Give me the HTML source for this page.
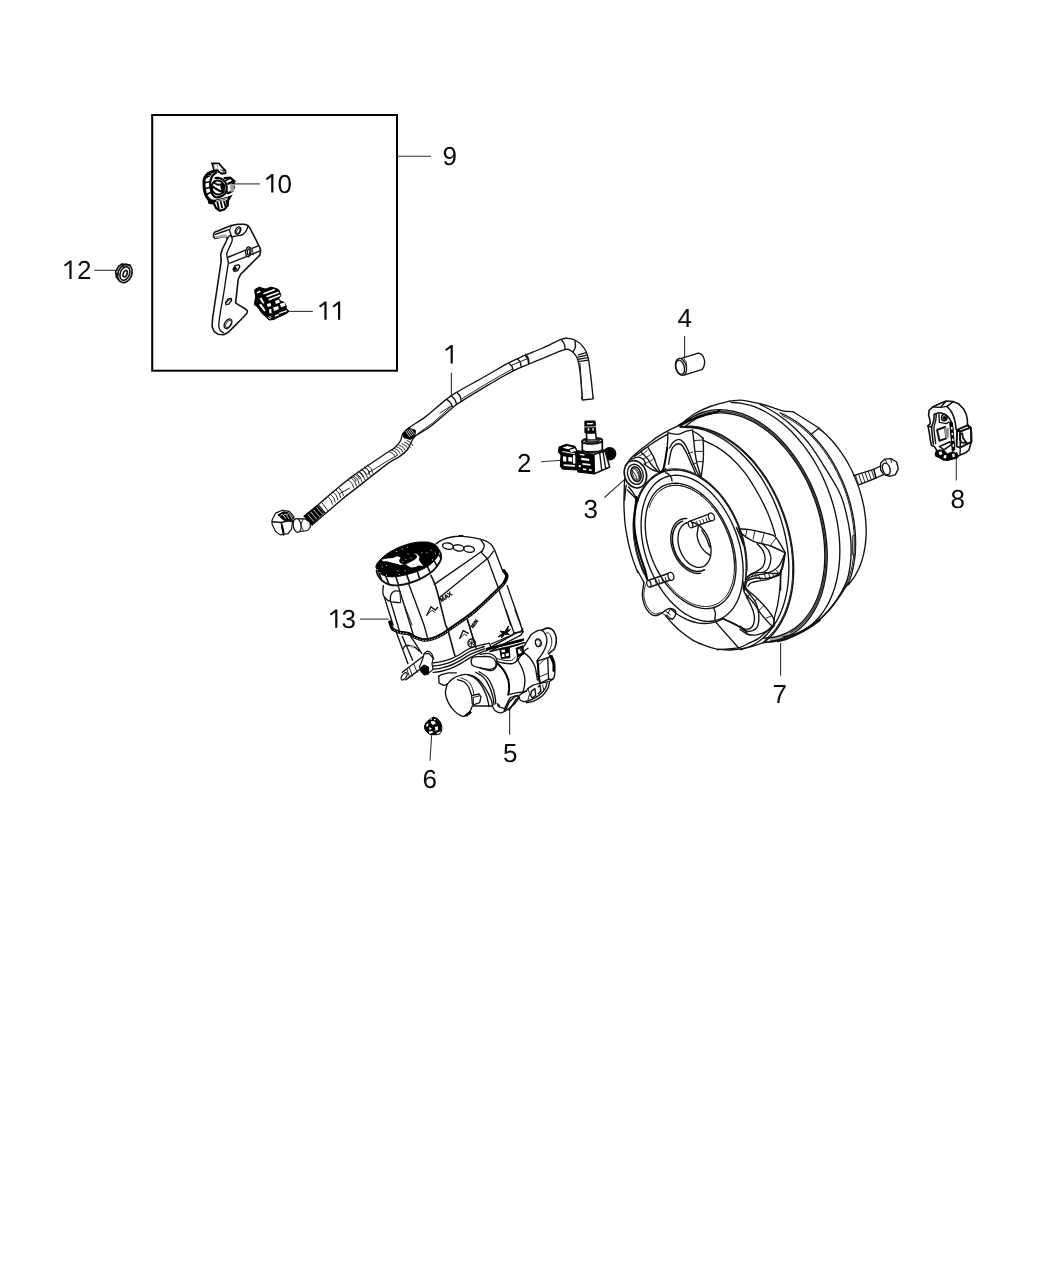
<!DOCTYPE html>
<html><head><meta charset="utf-8"><title>Brake Booster and Master Cylinder</title>
<style>
html,body{margin:0;padding:0;background:#fff;}
body{width:1050px;height:1275px;overflow:hidden;font-family:"Liberation Sans",sans-serif;}
svg{display:block;}
.l{fill:none;stroke:#111;stroke-width:1.35;stroke-linecap:round;stroke-linejoin:round;vector-effect:non-scaling-stroke}
.m{fill:none;stroke:#111;stroke-width:1.6;stroke-linecap:round;stroke-linejoin:round;vector-effect:non-scaling-stroke}
.h{fill:none;stroke:#000;stroke-width:2;stroke-linecap:round;stroke-linejoin:round;vector-effect:non-scaling-stroke}
.b{fill:none;stroke:#000;stroke-linecap:round;vector-effect:non-scaling-stroke}
.bw{fill:none;stroke:#bbb;stroke-width:1;stroke-dasharray:1.5 1.5;vector-effect:non-scaling-stroke}
.gr{fill:#222;stroke:#999;stroke-width:1.2}
.tw{fill:none;stroke:#fff;stroke-width:.8;vector-effect:non-scaling-stroke}
.g{fill:none;stroke:#a8a8a8;stroke-width:2.2;vector-effect:non-scaling-stroke}
.t{fill:none;stroke:#222;stroke-width:1;stroke-linecap:round;stroke-linejoin:round;vector-effect:non-scaling-stroke}
.w{fill:#fff;stroke:#111;stroke-width:1.2;stroke-linecap:round;stroke-linejoin:round;vector-effect:non-scaling-stroke}
.k{fill:#000;stroke:#000;stroke-width:1;stroke-linejoin:round;vector-effect:non-scaling-stroke}
.ld{fill:none;stroke:#333;stroke-width:1.1;vector-effect:non-scaling-stroke}
svg{will-change:transform;}
text{text-rendering:geometricPrecision;font-family:"Liberation Sans",sans-serif;font-size:26px;fill:#0a0a0a;}
</style></head><body>
<svg width="1050" height="1275" viewBox="0 0 1050 1275">
<rect x="0" y="0" width="1050" height="1275" fill="#fff"/>
<!-- frame box -->
<rect x="152.2" y="115" width="244.8" height="255.7" fill="none" stroke="#000" stroke-width="2"/>
<!-- leaders -->
<g class="ld">
<path d="M397 156.2H431"/>
<path d="M230.3 183.9H260"/>
<path d="M289.1 311.4H312.8"/>
<path d="M94.3 270.3H117.4"/>
<path d="M451.4 372.8V395.4"/>
<path d="M541.1 461.7L561.7 460.2"/>
<path d="M604.4 497.5L625 479.2"/>
<path d="M684.6 335.9V357.4"/>
<path d="M956.3 457.7V480.6"/>
<path d="M780.6 642.9V675.8"/>
<path d="M360 619.1H388.6"/>
<path d="M509.6 710V734.7"/>
<path d="M431.6 735.3L430 760.7"/>
</g>
<!-- labels -->
<g>
<text id="t9" x="442.6" y="164.8">9</text>
<path d="M7.7 0H5.5V-15.6L1.3-12.3 0-13.9 5.9-18.4H7.7Z" fill="#0a0a0a" transform="translate(265.7 192.5)"/><text id="t10" x="277.6" y="192.5">0</text>
<path d="M7.7 0H5.5V-15.6L1.3-12.3 0-13.9 5.9-18.4H7.7Z" fill="#0a0a0a" transform="translate(318.9 319.8)"/><path d="M7.7 0H5.5V-15.6L1.3-12.3 0-13.9 5.9-18.4H7.7Z" fill="#0a0a0a" transform="translate(332.5 319.8)"/>
<path d="M7.7 0H5.5V-15.6L1.3-12.3 0-13.9 5.9-18.4H7.7Z" fill="#0a0a0a" transform="translate(63.9 278.9)"/><text id="t12" x="76.9" y="278.9">2</text>
<path d="M7.7 0H5.5V-15.6L1.3-12.3 0-13.9 5.9-18.4H7.7Z" fill="#0a0a0a" transform="translate(445.1 363.4)"/>
<text id="t2" x="517" y="471.6">2</text>
<text id="t3" x="583.5" y="518.1">3</text>
<text id="t4" x="677.5" y="327.1">4</text>
<text id="t8" x="950.6" y="507.8">8</text>
<text id="t7" x="772.6" y="702.9">7</text>
<path d="M7.7 0H5.5V-15.6L1.3-12.3 0-13.9 5.9-18.4H7.7Z" fill="#0a0a0a" transform="translate(329.7 627.8)"/><text id="t13" x="341.5" y="627.8">3</text>
<text id="t5" x="503" y="762">5</text>
<text id="t6" x="422.6" y="788">6</text>
</g>

<g id="hose">
<path class="l" d="M304.1 516.0C306.6 514.0 313.9 508.3 319.0 504.0C324.1 499.7 329.5 494.9 335.0 490.3C340.5 485.7 343.9 482.6 352.1 476.6C360.4 470.6 377.5 459.1 384.6 454.3C391.7 449.4 392.2 449.7 394.9 447.4C397.5 445.1 399.2 442.9 400.6 440.6C401.9 438.3 401.5 435.8 402.9 433.7C404.2 431.6 404.8 430.9 408.6 428.0C412.4 425.1 419.4 421.3 425.7 416.6C432.0 411.8 441.0 403.5 446.3 399.4C451.5 395.3 450.6 395.9 457.1 392.0C463.7 388.1 477.1 380.9 485.7 376.0C494.3 371.1 502.1 366.3 508.6 362.9C515.0 359.4 518.9 357.9 524.6 355.4C530.3 353.0 536.8 350.7 542.9 348.0C549.0 345.3 557.0 341.0 561.1 339.4C565.3 337.8 565.7 338.2 568.0 338.3C570.3 338.4 572.6 338.9 574.9 340.0C577.1 341.1 579.8 343.1 581.7 345.1C583.6 347.1 585.1 349.5 586.3 352.0C587.4 354.5 587.8 355.8 588.6 360.0C589.3 364.2 590.1 370.9 590.9 377.1C591.6 383.4 592.8 394.3 593.1 397.7"/>
<path class="l" d="M312.1 525.1C314.4 523.1 320.9 517.4 325.9 513.1C330.8 508.9 336.5 503.8 341.9 499.4C347.2 495.0 350.2 492.9 357.9 486.9C365.5 480.9 381.1 468.5 388.0 463.4C394.9 458.4 396.2 458.9 399.4 456.6C402.7 454.3 405.5 452.0 407.4 449.7C409.3 447.4 409.5 445.1 410.9 442.9C412.2 440.6 412.0 438.9 415.4 436.0C418.9 433.1 425.0 430.7 431.4 425.7C437.9 420.8 449.2 410.4 454.3 406.3C459.3 402.2 456.1 404.7 461.7 401.1C467.3 397.6 479.4 390.2 488.0 385.1C496.6 380.1 506.3 374.4 513.1 370.9C520.0 367.3 524.2 366.1 529.1 364.0C534.1 361.9 537.0 360.7 542.9 358.3C548.8 355.9 560.0 351.0 564.6 349.7C569.1 348.4 568.6 349.5 570.3 350.3C572.0 351.0 573.5 352.5 574.9 354.3C576.2 356.1 577.3 357.3 578.3 361.1C579.2 365.0 579.9 370.9 580.6 377.1C581.2 383.4 582.0 395.2 582.3 398.9"/>
<path class="l" d="M581.7 397.9L582.4 400.0L593.1 398.9L593.1 397.5"/>
<path class="t" d="M339.6 493.7L349.9 488.0"/>
<path class="t" d="M368.1 474.3L368.6 472.6L388.0 460.6L397.1 455.4"/>
<path class="t" d="M417.7 433.7L433.7 422.3L452.0 405.7"/>
<path class="t" d="M440.0 413.1L451.4 405.7"/>
<path class="t" d="M461.7 398.9C466.1 396.2 479.6 387.8 488.0 382.9C496.4 377.9 508.0 371.4 512.0 369.1"/>
<path class="t" d="M580.0 363.4L582.3 397.7"/>
<path class="l" d="M446.9 399.4C447.5 400.0 449.7 401.5 450.6 402.9C451.6 404.2 452.2 406.7 452.6 407.4"/>
<path class="l" d="M451.4 396.0C452.0 396.6 454.1 398.3 454.9 399.7C455.8 401.1 456.3 403.8 456.6 404.6"/>
<path class="l" d="M457.1 392.6C457.6 393.2 459.4 394.9 460.1 396.3C460.7 397.7 461.0 400.3 461.1 401.1"/>
<path class="l" d="M509.1 363.4C509.6 364.0 511.4 365.3 512.1 366.6C512.7 367.8 513.0 370.1 513.1 370.9"/>
<path class="l" d="M517.7 358.9C518.2 359.4 519.8 361.0 520.3 362.3C520.9 363.6 521.0 366.1 521.1 366.9"/>
<path class="l" d="M525.1 355.4C525.6 356.0 527.2 357.7 527.8 359.1C528.3 360.6 528.4 363.2 528.6 364.0"/>
<path class="t" d="M510.9 365.7L526.9 358.9"/>
<path class="l" d="M525.7 354.3C526.2 355.0 527.8 356.8 528.3 358.3C528.9 359.8 529.0 362.6 529.1 363.4"/>
<path class="l" d="M561.7 340.0C562.2 340.7 563.8 342.5 564.3 344.0C564.9 345.5 565.0 348.3 565.1 349.1"/>
<path class="l" d="M574.9 340.6C575.0 341.6 575.7 345.0 575.4 346.9C575.1 348.8 573.5 351.1 573.1 352.0"/>
<path class="l" d="M578.3 354.9L586.3 352.6"/>
<path class="l" d="M578.3 357.1L587.0 355.1"/>
<path class="l" d="M578.3 359.4L587.7 357.6"/>
<path class="l" d="M578.3 361.7L588.3 360.1"/>
<path class="t" d="M348.1 479.8C348.8 480.4 350.9 481.9 351.8 483.3C352.7 484.7 353.3 487.2 353.6 488.0"/>
<path class="t" d="M350.9 477.7C351.5 478.2 353.6 479.8 354.5 481.2C355.5 482.6 356.1 485.1 356.4 485.9"/>
<path class="t" d="M353.6 475.5C354.2 476.1 356.4 477.7 357.3 479.1C358.2 480.5 358.8 483.0 359.1 483.8"/>
<path class="t" d="M356.4 473.4C357.0 474.0 359.1 475.6 360.0 477.0C360.9 478.3 361.6 480.9 361.9 481.7"/>
<path class="t" d="M359.1 471.3C359.7 471.9 361.9 473.5 362.8 474.9C363.7 476.2 364.3 478.8 364.6 479.5"/>
<path class="t" d="M361.9 469.2C362.5 469.8 364.6 471.4 365.5 472.7C366.4 474.1 367.0 476.6 367.3 477.4"/>
<path class="t" d="M364.6 467.1C365.2 467.7 367.3 469.3 368.3 470.6C369.2 472.0 369.8 474.5 370.1 475.3"/>
<path class="t" d="M367.3 465.0C368.0 465.6 370.1 467.1 371.0 468.5C371.9 469.9 372.5 472.4 372.8 473.2"/>
<path class="t" d="M327.2 496.2C327.8 496.8 329.9 498.3 330.7 499.7C331.6 501.0 332.1 503.5 332.4 504.2"/>
<path class="t" d="M330.0 494.1C330.6 494.6 332.6 496.2 333.5 497.5C334.3 498.8 334.8 501.3 335.1 502.1"/>
<path class="t" d="M332.7 491.9C333.3 492.5 335.3 494.0 336.2 495.3C337.1 496.6 337.6 499.1 337.9 499.9"/>
<path class="t" d="M335.5 489.7C336.0 490.3 338.1 491.8 338.9 493.1C339.8 494.5 340.3 497.0 340.6 497.7"/>
<path class="t" d="M338.2 487.5C338.8 488.1 340.8 489.6 341.7 491.0C342.5 492.3 343.1 494.8 343.3 495.5"/>
<path class="t" d="M389.4 451.8C390.0 452.1 392.2 452.9 393.1 453.7C394.1 454.6 394.8 456.3 395.1 456.8"/>
<path class="t" d="M391.9 450.2C392.5 450.5 394.7 451.3 395.7 452.1C396.6 453.0 397.3 454.7 397.6 455.2"/>
<path class="t" d="M394.4 448.6C395.0 448.9 397.2 449.7 398.2 450.5C399.1 451.4 399.8 453.1 400.1 453.6"/>
<path class="t" d="M396.9 447.0C397.5 447.3 399.7 448.1 400.7 448.9C401.6 449.8 402.3 451.5 402.6 452.0"/>
<path class="t" d="M399.4 445.4C400.1 445.7 402.2 446.5 403.2 447.3C404.2 448.2 404.8 449.9 405.1 450.4"/>
<path class="t" d="M401.9 443.8C402.6 444.1 404.8 444.9 405.7 445.7C406.7 446.6 407.3 448.3 407.7 448.8"/>
<path class="t" d="M404.5 442.2C405.1 442.5 407.3 443.3 408.2 444.1C409.2 445.0 409.8 446.7 410.2 447.2"/>
<path class="t" d="M407.0 440.6C407.6 440.9 409.8 441.7 410.7 442.5C411.7 443.4 412.4 445.1 412.7 445.6"/>
<path class="k" d="M402.6 433.7L408.6 428.0L415.4 430.3L414.9 436.6L410.3 439.4L404.0 437.7Z"/>
<path class="tw" d="M405.7 430.9L409.9 437.1"/>
<path class="tw" d="M407.3 430.2L411.5 436.2"/>
<path class="tw" d="M408.9 429.5L413.1 435.3"/>
<path class="tw" d="M410.5 428.8L414.7 434.4"/>
<path class="t" d="M351.4 476.6C352.0 476.9 353.9 477.5 354.6 478.3C355.4 479.0 355.8 480.7 356.0 481.1"/>
<path class="t" d="M354.6 474.3C355.2 474.6 357.1 475.2 357.8 476.0C358.6 476.8 359.0 478.4 359.2 478.9"/>
<path class="t" d="M357.8 472.0C358.4 472.3 360.3 473.0 361.0 473.7C361.8 474.5 362.2 476.1 362.4 476.6"/>
<path class="t" d="M361.0 469.7C361.6 470.0 363.5 470.7 364.2 471.4C365.0 472.2 365.4 473.8 365.6 474.3"/>
<path class="t" d="M364.2 467.4C364.8 467.7 366.7 468.4 367.4 469.1C368.2 469.9 368.6 471.5 368.8 472.0"/>
<path class="k" d="M304.1 516.3L317.3 505.7L323.6 513.1L311.6 524.8Z"/>
<path class="tw" d="M307.8 514.3L313.9 521.7"/>
<path class="tw" d="M310.7 512.0L316.7 519.2"/>
<path class="tw" d="M313.5 509.7L319.6 516.7"/>
<path class="tw" d="M316.4 507.4L322.4 514.2"/>
<path class="l" d="M319.0 505.7L325.3 513.1"/>
<path class="t" d="M322.4 503.4L328.1 510.9"/>
<path class="w" d="M295.0 518.9L305.3 518.9L309.9 522.3L310.4 526.9L307.6 530.5L297.3 532.0"/>
<ellipse class="w" cx="297.1" cy="525.4" rx="3.9" ry="6.9" transform="rotate(-8 297.1 525.4)"/>
<path class="t" d="M303.0 519.1C302.7 520.1 301.2 523.1 301.3 525.1C301.4 527.2 303.2 530.2 303.6 531.2"/>
<path class="w" d="M272.1 520.0L275.6 513.1L282.4 510.3L289.3 511.4L293.9 516.6L292.7 520.0L291.6 529.1L288.1 533.7L280.1 534.9L275.6 531.4L272.1 524.6Z"/>
<path class="k" d="M277.9 514.9L283.6 511.8L289.3 513.1L292.7 517.7L291.6 521.7L283.6 520.0Z"/>
<path class="tw" d="M279.6 516.3C280.0 516.0 281.4 513.9 282.4 514.3C283.5 514.7 285.3 518.1 285.9 518.9"/>
<path class="tw" d="M283.0 515.7C283.5 515.4 284.8 513.4 285.9 514.1C286.9 514.7 288.5 518.4 289.1 519.3"/>
<path class="tw" d="M286.4 515.0C286.9 514.8 288.3 513.0 289.3 513.8C290.3 514.6 291.8 518.8 292.3 519.8"/>
<path class="m" d="M272.1 521.7L281.3 522.5L283.6 534.9"/>
<path class="l" d="M281.3 522.5L291.6 520.0"/>
<path class="h" d="M281.9 525.7L283.6 532.6"/>
</g>

<g id="small">
<circle cx="609.7" cy="453.7" r="6.7" fill="#000"/>
<path class="w" d="M593.7 454.3L605.0 451.0L609.7 467.0L594.3 473.7Z" style="stroke-width:1.6"/>
<path class="l" d="M599.7 452.7L601.7 470.3"/>
<path class="l" d="M603.0 451.7L605.7 468.7"/>
<path class="k" d="M577.0 451.0L593.7 453.3L594.3 474.0L577.7 472.0Z"/>
<path d="M581.0 457.7L589.0 458.7L589.3 461.0L581.3 460.0Z" fill="#fff"/>
<path d="M582.3 463.0L590.3 464.0L590.5 465.7L582.5 464.7Z" fill="#fff"/>
<path d="M579.7 453.7L584.3 454.3L584.5 455.7L579.8 455.0Z" fill="#fff"/>
<path d="M583.0 468.3L586.3 468.7L586.5 470.3L583.1 469.9Z" fill="#fff"/>
<path d="M589.0 469.1L591.7 469.5L591.8 471.0L589.1 470.7Z" fill="#fff"/>
<path d="M578.7 465.0L580.7 465.3L580.8 467.3L578.8 467.1Z" fill="#fff"/>
<path class="w" d="M577.0 451.0L593.0 452.0L603.7 450.0L605.0 451.0L593.7 454.3L577.0 452.3Z" style="stroke-width:1.5"/>
<path class="w" d="M582.3 441.7L582.3 450.3L586.3 452.0L598.3 451.7L602.3 449.7L602.3 441.3Z" style="stroke-width:1.8"/>
<ellipse class="w" style="stroke-width:2" cx="592.2" cy="440.9" rx="10.1" ry="2.8" transform="rotate(-3 592.2 440.9)"/>
<ellipse class="m" cx="592.2" cy="440.3" rx="7.0" ry="1.7" transform="rotate(-3 592.2 440.3)"/>
<path class="w" d="M586.3 433.0L595.7 433.0L596.3 439.7L587.0 440.0Z" style="stroke-width:1.6"/>
<path class="k" d="M584.9 421.0L595.1 421.0L595.8 432.5L584.9 432.7Z"/>
<path d="M587.0 423.0L593.0 422.9L593.1 424.3L587.1 424.5Z" fill="#fff"/>
<path d="M587.7 428.3L589.3 428.3L589.3 430.7L587.7 430.7Z" fill="#fff"/>
<path d="M592.3 428.2L593.8 428.2L593.8 430.5L592.3 430.5Z" fill="#fff"/>
<path class="tw" d="M584.3 427.0L596.0 426.7"/>
<path class="k" d="M559.0 447.0L566.3 444.3L575.0 446.3L577.3 451.0L576.7 470.0L562.3 469.1L560.3 466.3L561.0 455.0L558.3 452.3Z"/>
<path d="M562.3 447.7L567.0 446.0L573.0 447.3L568.3 449.3Z" fill="#fff"/>
<path d="M569.7 449.7L575.0 448.3L576.0 451.0L571.0 452.3Z" fill="#fff"/>
<path d="M563.0 456.3L566.3 456.7L566.3 461.7L563.0 461.3Z" fill="#fff"/>
<path d="M568.3 457.0L572.3 457.4L572.3 461.7L568.3 461.3Z" fill="#fff"/>
<path d="M562.3 451.0L575.0 453.3L575.0 454.3L562.3 452.1Z" fill="#fff"/>
<path d="M563.7 464.3L575.0 465.1L575.0 466.7L563.7 465.9Z" fill="#fff"/>
<path d="M573.0 455.0L575.3 455.3L575.3 463.7L573.0 463.4Z" fill="#fff"/>
<path class="w" d="M928.6 415.6L929.1 410.4L932.6 407.0L938.9 404.1L946.3 401.0L953.1 401.6L958.9 404.1L963.4 408.7L966.3 414.4L967.4 420.1L967.4 424.7L970.3 427.0L971.4 432.1L971.4 441.9L970.3 445.3L969.1 449.9L965.7 452.7L960.0 455.0L958.9 455.6L956.6 457.9L952.0 459.0L947.4 460.1L942.9 459.6L939.4 457.3L936.0 456.1L935.4 453.9L937.1 451.0L934.3 446.4L931.4 445.3L930.3 439.6L929.1 431.6L928.0 425.9L930.3 423.6L929.7 419.0Z" style="stroke-width:1.6"/>
<path class="l" d="M932.6 407.0L940.6 407.3L946.9 406.4L953.1 401.9"/>
<path class="l" d="M940.6 407.3L946.0 401.3"/>
<path class="m" d="M946.9 406.4C947.5 407.2 949.7 409.3 950.9 411.0C952.0 412.7 953.0 414.6 953.7 416.7C954.5 418.8 955.0 421.5 955.4 423.6C955.8 425.7 955.9 428.3 956.0 429.3"/>
<path class="m" d="M934.3 414.4C935.1 414.1 937.6 412.7 939.4 412.7C941.2 412.7 943.4 413.4 945.1 414.4C946.9 415.5 948.6 417.3 949.7 419.0C950.9 420.7 951.5 423.0 952.0 424.7C952.5 426.4 952.7 428.5 952.9 429.3"/>
<path class="m" d="M934.3 414.4C934.2 415.5 934.1 418.6 933.7 420.7C933.3 422.8 932.0 424.6 931.7 427.0C931.5 429.4 932.0 432.1 932.3 435.0C932.6 437.9 933.2 442.6 933.4 444.1"/>
<path class="l" d="M936.3 414.1C936.2 415.2 936.1 418.6 935.7 420.7C935.3 422.9 934.2 424.6 934.0 427.0C933.8 429.4 934.3 432.2 934.6 435.0C934.9 437.8 935.5 442.1 935.7 443.6"/>
<path class="m" d="M928.0 425.9L931.4 427.0"/>
<path class="l" d="M938.9 413.9L939.4 422.4L946.9 423.6L948.6 421.9"/>
<ellipse class="m" cx="944.3" cy="417.6" rx="2.7" ry="3.1" transform="rotate(0 944.3 417.6)"/>
<ellipse class="k" cx="944.6" cy="417.9" rx="1.3" ry="1.6" transform="rotate(0 944.6 417.9)"/>
<path class="m" d="M937.1 429.9L945.1 427.0L946.3 438.4L939.4 440.7Z" style="stroke-width:2"/>
<path class="g" d="M945.1 428.1L948.6 428.4L948.6 437.3L946.3 437.6Z" style="stroke-width:1.2;fill:#888"/>
<path class="k" d="M949.7 422.4L952.3 422.4L954.9 449.9L952.3 451.3Z"/>
<path d="M951.0 427.0L952.4 427.0L952.6 429.6L951.2 429.6Z" fill="#fff"/>
<path d="M951.5 432.7L952.9 432.7L953.1 435.3L951.7 435.3Z" fill="#fff"/>
<path d="M952.0 438.4L953.4 438.4L953.6 441.0L952.2 441.0Z" fill="#fff"/>
<path d="M952.5 444.1L954.0 444.1L954.1 446.7L952.7 446.7Z" fill="#fff"/>
<path class="m" d="M957.1 429.9L967.4 425.3L970.9 428.1L971.4 441.9L960.0 447.6L956.6 446.4Z" style="stroke-width:2"/>
<path class="h" d="M957.1 429.9L960.0 431.6L970.3 427.6"/>
<path class="m" d="M960.0 431.6L960.3 447.3"/>
<path class="m" d="M960.0 433.9L962.3 433.3L962.9 437.9L965.1 440.7L966.9 443.0L961.1 442.4L960.0 438.4Z" style="stroke-width:1.8"/>
<path class="m" d="M939.4 446.4L949.7 441.9L952.0 444.1L944.0 449.9Z"/>
<path class="l" d="M960.0 455.0L960.3 447.6"/>
<path class="k" d="M935.4 452.1L938.9 449.9L944.0 450.4L947.4 453.9L952.0 452.1L956.6 452.1L957.7 455.6L954.3 458.4L947.4 460.1L942.9 459.6L939.4 457.3L936.0 456.1Z"/>
<path d="M938.9 452.1L941.7 451.6L942.3 454.4L939.4 455.0Z" fill="#fff"/>
<path d="M944.0 455.0L946.9 455.6L945.7 458.4L943.4 457.9Z" fill="#fff"/>
<path d="M952.0 453.9L954.3 453.6L954.9 456.7L952.6 457.3Z" fill="#fff"/>
<path d="M954.3 449.9L956.6 449.3L957.1 452.1L954.9 452.7Z" fill="#fff"/>
<path class="k" d="M424.5 726.3L425.7 722.9L429.5 719.4L433.3 717.1L437.1 718.3L440.1 721.7L441.7 725.5L441.7 730.9L439.8 733.9L436.3 734.7L430.2 734.7L427.2 732.4L424.9 729.3Z"/>
<path d="M431.0 721.3L434.0 721.0L436.0 723.2L433.3 725.1L431.0 723.2Z" fill="#fff"/>
<path d="M426.4 724.0L428.7 723.2L428.0 726.3L426.4 727.0Z" fill="#fff"/>
<path d="M429.5 727.0L431.8 728.6L430.2 730.1L429.1 729.3Z" fill="#fff"/>
<path d="M434.8 727.0L437.9 726.3L437.9 730.1L435.6 730.9Z" fill="#fff"/>
<path d="M428.7 731.6L432.5 730.9L432.9 732.8L429.5 733.9Z" fill="#fff"/>
<path d="M436.3 733.1L440.9 730.9L440.1 733.1L437.1 734.3Z" fill="#fff"/>
<path d="M430.2 718.7L431.8 718.3L432.0 719.4L430.4 719.8Z" fill="#fff"/>
<path d="M434.0 719.0L435.6 718.9L435.8 720.0L434.2 720.2Z" fill="#fff"/>
<path class="l" d="M678.9 359.1L698.3 353.2"/>
<path class="l" d="M684.0 375.1L702.3 369.4"/>
<path class="l" d="M698.3 353.2C699.0 353.5 701.2 353.9 702.3 355.1C703.3 356.4 704.3 359.0 704.6 360.9C704.9 362.7 704.4 364.6 704.0 366.0C703.6 367.4 702.6 368.9 702.3 369.4"/>
<ellipse class="w" cx="680.9" cy="366.9" rx="5.3" ry="8.6" transform="rotate(-15 680.9 366.9)"/>
<ellipse class="l" cx="680.2" cy="367.3" rx="4.1" ry="7.3" transform="rotate(-15 680.2 367.3)"/>
<path class="t" d="M684.0 358.6C684.4 359.3 685.8 361.2 686.3 363.1C686.7 365.0 686.8 368.1 686.6 370.0C686.4 371.9 685.4 374.0 685.1 374.8"/>
</g>

<g id="mc">
<path class="l" d="M436.0 543.9C437.0 543.2 439.7 541.0 442.3 539.9C444.9 538.7 448.0 537.7 451.4 537.0C454.9 536.3 461.6 536.0 462.9 535.9C464.1 535.7 457.5 535.6 459.1 535.9C460.8 536.1 468.7 536.8 472.9 537.6C477.0 538.3 481.2 539.3 484.3 540.4C487.3 541.6 489.4 542.8 491.1 544.4C492.9 546.0 494.0 549.2 494.6 550.1"/>
<path class="l" d="M494.6 550.1L502.6 570.7"/>
<path class="l" d="M507.1 585.6L520.9 625.0L515.1 610.0L523.1 631.7"/>
<path class="l" d="M480.9 539.9C481.4 540.8 484.1 543.7 484.3 545.6C484.5 547.5 482.4 550.3 482.0 551.3"/>
<path class="l" d="M482.0 551.3L434.3 584.4"/>
<path class="l" d="M493.4 551.3C492.9 552.0 491.1 554.5 490.0 555.9C488.9 557.2 487.1 558.7 486.6 559.3"/>
<path class="l" d="M486.6 559.3L438.9 598.1"/>
<path class="l" d="M480.9 551.9L487.7 559.3L500.3 593.6"/>
<path class="l" d="M500.3 593.6L510.6 625.0L506.0 610.0L514.0 632.9"/>
<ellipse class="l" cx="448.0" cy="546.1" rx="5.5" ry="3.1" transform="rotate(8 448.0 546.1)"/>
<ellipse class="l" cx="458.5" cy="547.9" rx="5.5" ry="3.1" transform="rotate(8 458.5 547.9)"/>
<ellipse class="l" cx="469.1" cy="549.2" rx="5.5" ry="3.1" transform="rotate(8 469.1 549.2)"/>
<path class="l" d="M514.0 632.9L523.1 631.7"/>
<path class="l" d="M514.0 632.9L512.3 635.1L490.0 647.7"/>
<path class="l" d="M523.1 631.7L520.9 635.1L492.3 650.0"/>
<path class="h" d="M487.7 648.9L520.9 640.9"/>
<path class="m" d="M490.0 651.4L518.6 644.5"/>
<path class="m" d="M430.9 575.3C431.6 577.0 434.1 581.8 435.4 585.6C436.8 589.4 437.7 593.8 438.9 598.1C440.0 602.5 441.1 607.4 442.3 611.9C443.4 616.3 444.8 621.9 445.7 625.0C446.7 628.1 446.5 625.5 448.0 630.6C449.5 635.7 453.7 651.5 454.9 655.7"/>
<path class="l" d="M408.0 582.1L424.0 625.0L427.4 637.4"/>
<path class="l" d="M397.7 584.4L410.3 625.0L413.7 636.3"/>
<path class="t" d="M400.0 593.6L412.0 625.0"/>
<path class="l" d="M384.6 598.1L393.1 625.0L390.9 621.4"/>
<path class="l" d="M390.3 600.4L397.7 625.0L399.4 631.1"/>
<path class="l" d="M383.4 585.6C383.3 586.9 382.4 591.3 382.9 593.6C383.3 595.9 385.0 598.0 386.3 599.3C387.6 600.6 388.6 601.0 390.9 601.6C393.1 602.1 398.5 602.5 400.0 602.7"/>
<path class="l" d="M390.3 600.4C390.4 599.5 390.2 596.3 390.9 594.7C391.5 593.2 392.8 591.6 394.3 591.1C395.8 590.5 399.0 591.2 400.0 591.3"/>
<path class="t" d="M400.0 591.3L400.6 602.7"/>
<path class="b" d="M389.9 622.0C390.4 623.1 390.9 627.1 392.6 628.9C394.2 630.6 397.2 631.5 400.0 632.3C402.8 633.1 406.7 633.0 409.1 633.8C411.6 634.6 412.6 636.2 414.9 637.2C417.1 638.2 420.0 639.7 422.9 639.9C425.7 640.2 429.0 639.6 432.0 638.8C435.0 638.0 438.3 636.7 441.1 635.1C444.0 633.6 445.7 632.0 449.1 629.7C452.6 627.3 457.3 624.0 461.7 620.9C466.1 617.7 469.2 616.0 475.4 610.6C481.7 605.2 494.3 593.1 499.1 588.4C504.0 583.8 503.0 584.8 504.3 582.7C505.6 580.6 506.9 577.9 506.8 575.9C506.7 573.9 504.2 571.6 503.7 570.7" style="stroke-width:3.4"/>
<path class="bw" d="M394.3 630.3C395.2 630.7 397.5 632.0 400.0 632.6C402.5 633.3 406.7 633.4 409.1 634.2C411.6 635.1 412.6 636.6 414.9 637.7C417.1 638.7 420.0 640.1 422.9 640.4C425.7 640.7 429.0 640.1 432.0 639.3C435.0 638.5 438.3 637.1 441.1 635.6C444.0 634.1 445.7 632.5 449.1 630.1C452.6 627.7 457.3 624.5 461.7 621.3C466.1 618.1 469.2 616.4 475.4 611.0C481.7 605.6 494.4 593.4 499.1 588.9C503.9 584.4 503.0 584.7 503.7 583.9"/>
<path class="l" d="M396.6 632.9L408.0 663.7"/>
<path class="l" d="M402.3 636.3L412.6 660.3"/>
<path class="l" d="M409.1 634.0L413.7 640.9L421.7 653.4"/>
<path class="l" d="M403.4 648.3C403.8 647.8 404.0 645.9 405.7 645.7C407.4 645.4 411.4 645.7 413.7 646.6C416.0 647.5 418.5 650.4 419.4 651.1"/>
<path class="g" d="M410.3 645.7L413.7 647.7"/>
<path class="l" d="M402.3 672.3L424.0 655.7"/>
<path class="l" d="M405.7 679.9L420.0 669.4"/>
<ellipse class="w" cx="404.1" cy="676.3" rx="2.1" ry="4.3" transform="rotate(35 404.1 676.3)"/>
<path class="t" d="M409.1 667.1L412.6 676.3"/>
<path class="t" d="M413.7 663.7L417.1 672.3"/>
<path class="t" d="M406.9 669.4L409.7 677.4"/>
<path class="w" d="M424.0 654.0L428.6 653.4L433.1 658.0L432.0 663.7L433.1 669.4L427.4 674.0L421.7 671.7L419.4 667.1L422.3 660.3Z"/>
<path class="k" d="M420.6 667.7L424.0 664.9L428.6 667.1L428.6 674.0L424.0 675.1L421.1 671.7Z"/>
<path class="l" d="M424.0 654.0C424.6 653.5 426.2 651.2 427.4 651.1C428.7 651.0 430.4 652.1 431.4 653.4C432.5 654.8 433.3 658.2 433.7 659.1"/>
<path class="l" d="M433.1 662.8C434.7 662.6 439.2 662.1 442.3 661.4C445.3 660.7 448.4 659.8 451.4 658.6C454.5 657.3 457.5 655.7 460.6 654.0C463.6 652.3 465.8 649.9 469.7 648.3C473.7 646.7 481.9 645.0 484.3 644.3"/>
<path class="l" d="M433.1 666.0C434.7 665.8 439.2 665.3 442.3 664.6C445.3 663.9 448.4 663.0 451.4 661.8C454.5 660.5 457.5 658.9 460.6 657.2C463.6 655.5 465.8 653.3 469.7 651.5C473.7 649.7 481.9 647.4 484.3 646.5"/>
<path class="l" d="M433.1 669.2C434.7 669.0 439.2 668.5 442.3 667.8C445.3 667.1 448.4 666.2 451.4 665.0C454.5 663.7 457.5 662.1 460.6 660.4C463.6 658.7 465.8 656.6 469.7 654.7C473.7 652.7 481.9 649.8 484.3 648.8"/>
<path class="l" d="M433.1 672.4C434.7 672.2 439.2 671.7 442.3 671.0C445.3 670.3 448.4 669.4 451.4 668.2C454.5 666.9 457.5 665.3 460.6 663.6C463.6 661.9 465.8 660.0 469.7 657.9C473.7 655.8 481.9 652.2 484.3 651.0"/>
<path class="l" d="M484.3 644.3L489.4 643.1L491.1 648.3L485.4 651.1"/>
<path class="l" d="M467.4 619.1L474.3 642.0"/>
<path class="l" d="M467.1 619.1L476.3 648.9"/>
<text x="445.9" y="598.8" transform="rotate(-35 445.9 596.8)" style="font-size:6px;font-weight:bold;stroke:#000;stroke-width:.35" text-anchor="middle">MAX</text>
<text x="474.0" y="625.7" transform="rotate(-55 474.0 623.7)" style="font-size:5px;font-weight:bold;stroke:#000;stroke-width:.35" text-anchor="middle">MIN</text>
<path class="l" d="M426.9 615.3L430.9 606.7L435.4 610.1L437.7 607.3"/>
<path class="t" d="M426.9 615.3L432.0 610.1L434.9 612.4"/>
<path class="l" d="M459.7 638.6L463.1 630.6L468.3 633.4"/>
<path class="t" d="M459.7 638.6L464.3 634.0L467.1 635.7"/>
<ellipse class="l" cx="471.7" cy="643.1" rx="3.7" ry="4.1" transform="rotate(0 471.7 643.1)"/>
<path class="t" d="M468.9 640.9L474.6 645.4"/>
<path class="t" d="M472.3 639.1L471.1 647.1"/>
<path class="t" d="M468.3 644.3L475.1 642.0"/>
<path class="k" d="M498.0 636.9L502.6 633.4L500.3 631.1L504.9 631.7L508.3 626.0L507.7 630.6L510.6 629.4L507.1 632.9L509.4 634.6L504.9 634.2L501.4 638.0L502.0 635.4Z"/>
<path class="w" style="stroke-width:1.9" d="M376.5 570.8C376.8 571.7 377.4 574.5 378.4 576.1C379.3 577.8 380.4 579.3 382.2 580.7C384.0 582.1 386.3 583.8 389.0 584.5C391.8 585.3 395.5 585.5 399.0 585.3C402.4 585.0 406.1 584.1 409.6 583.0C413.2 581.9 416.9 580.5 420.3 578.8C423.7 577.2 427.4 575.2 430.2 573.1C433.0 571.0 435.3 568.5 437.0 566.2C438.8 564.0 440.2 561.4 440.9 559.4C441.5 557.3 441.2 555.6 440.9 554.0C440.5 552.5 439.3 550.9 439.0 550.2"/>
<path class="m" d="M386.0 576.5L388.7 583.8"/>
<path class="m" d="M395.9 576.9L398.6 584.9"/>
<path class="m" d="M406.6 574.6L409.6 582.6"/>
<path class="m" d="M417.2 571.2L419.9 579.2"/>
<path class="m" d="M427.5 566.2L430.2 573.1"/>
<path class="m" d="M434.0 560.5L437.0 566.2"/>
<path class="m" d="M438.2 554.0L440.9 557.9"/>
<path class="m" d="M379.1 573.1L381.4 579.6"/>
<path class="k" d="M376.1 565.5C376.6 564.0 378.1 562.0 379.9 560.1C381.7 558.2 384.1 556.0 386.8 554.0C389.4 552.1 392.6 550.3 395.9 548.7C399.2 547.1 403.0 545.6 406.6 544.5C410.1 543.4 413.7 542.6 417.2 542.2C420.8 541.9 424.9 541.8 427.9 542.2C431.0 542.7 433.7 543.7 435.5 544.9C437.3 546.1 438.2 547.7 438.6 549.5C439.0 551.3 438.6 553.7 437.8 555.6C437.0 557.5 435.7 559.1 434.0 560.9C432.3 562.7 430.4 564.6 427.9 566.2C425.4 567.9 422.1 569.5 418.8 570.8C415.5 572.1 411.7 573.3 408.1 574.2C404.5 575.2 400.9 576.1 397.4 576.5C394.0 576.9 390.3 577.0 387.5 576.5C384.7 576.1 382.4 575.1 380.7 573.9C378.9 572.7 377.6 570.7 376.9 569.3C376.1 567.9 375.6 567.0 376.1 565.5Z"/>
<path d="M381.4 559.8L386.8 558.6L392.9 557.9L397.4 556.3L400.5 557.5L399.0 560.9L400.5 563.2L403.5 564.3L400.5 565.1L395.9 563.6L391.3 562.4L386.8 561.3L383.0 561.3Z" fill="#fff"/>
<path d="M405.8 564.3L411.1 561.7L415.0 559.4L417.2 557.1L416.5 554.8L412.7 553.3L417.2 554.0L419.5 557.1L418.8 560.1L421.8 564.0L423.3 565.9L418.8 565.5L415.7 567.0L411.1 567.4L408.1 565.9Z" fill="#fff"/>
<rect x="406.8" y="546.7" width="1" height="1" fill="#ddd"/>
<rect x="401.9" y="548.6" width="1" height="1" fill="#ddd"/>
<rect x="396.2" y="550.9" width="1" height="1" fill="#ddd"/>
<rect x="421.3" y="552.4" width="1" height="1" fill="#ddd"/>
<rect x="426.3" y="552.4" width="1" height="1" fill="#ddd"/>
<rect x="430.5" y="549.7" width="1" height="1" fill="#ddd"/>
<rect x="435.0" y="552.8" width="1" height="1" fill="#ddd"/>
<rect x="432.0" y="559.3" width="1" height="1" fill="#ddd"/>
<rect x="385.9" y="565.0" width="1" height="1" fill="#ddd"/>
<rect x="381.7" y="566.5" width="1" height="1" fill="#ddd"/>
<rect x="397.3" y="570.3" width="1" height="1" fill="#ddd"/>
<rect x="404.5" y="570.3" width="1" height="1" fill="#ddd"/>
<rect x="398.8" y="574.1" width="1" height="1" fill="#ddd"/>
<rect x="385.9" y="574.9" width="1" height="1" fill="#ddd"/>
<rect x="377.1" y="569.2" width="1" height="1" fill="#ddd"/>
<rect x="379.4" y="572.2" width="1" height="1" fill="#ddd"/>
<rect x="407.6" y="553.5" width="1" height="1" fill="#ddd"/>
<rect x="410.6" y="557.4" width="1" height="1" fill="#ddd"/>
<rect x="405.3" y="558.9" width="1" height="1" fill="#ddd"/>
<rect x="402.3" y="561.2" width="1" height="1" fill="#ddd"/>
<path class="l" d="M447.1 684.3C446.9 685.8 445.2 690.4 445.4 693.4C445.6 696.5 446.9 699.7 448.3 702.6C449.7 705.4 451.9 708.4 454.0 710.6C456.1 712.8 459.1 714.8 460.9 715.7C462.6 716.7 463.7 716.2 464.3 716.3"/>
<path class="l" d="M447.1 684.3C448.1 683.3 450.6 680.1 452.9 678.6C455.1 677.0 458.4 675.8 460.9 675.1C463.3 674.5 465.2 674.2 467.7 674.6C470.2 675.0 473.2 675.8 475.7 677.4C478.2 679.0 480.5 681.6 482.6 684.3C484.7 687.0 486.8 690.6 488.3 693.4C489.8 696.3 491.0 699.3 491.7 701.4C492.4 703.5 492.2 705.2 492.3 706.0"/>
<path class="l" d="M467.7 674.6C469.0 675.2 473.4 676.8 475.7 678.6C478.0 680.4 479.7 682.8 481.4 685.4C483.1 688.1 484.9 691.7 486.0 694.6C487.1 697.4 487.8 700.6 488.3 702.6C488.8 704.6 488.8 705.9 488.9 706.6"/>
<path class="l" d="M475.7 672.3C477.0 673.1 481.4 675.0 483.7 677.4C486.0 679.8 487.9 683.3 489.4 686.6C491.0 689.8 492.1 693.8 492.9 696.9C493.6 699.9 493.8 703.5 494.0 704.9"/>
<path class="l" d="M479.1 671.7C480.5 672.7 485.0 675.0 487.1 677.4C489.3 679.9 491.0 683.3 492.3 686.6C493.6 689.8 494.6 694.0 495.1 696.9C495.7 699.7 495.6 702.6 495.7 703.7"/>
<path class="l" d="M457.4 679.7C458.6 680.1 462.4 680.7 464.3 682.0C466.2 683.3 467.6 685.4 468.9 687.7C470.1 690.0 471.2 694.4 471.7 695.7"/>
<path class="t" d="M460.9 678.0C461.9 678.4 465.3 679.2 467.1 680.6C469.0 682.1 470.6 684.2 471.7 686.6C472.9 688.9 473.6 693.2 474.0 694.6"/>
<path class="l" d="M471.7 695.7L479.1 694.0L480.9 696.9L479.7 702.6L473.4 704.9L472.3 703.7Z"/>
<path class="t" d="M473.4 697.4L473.4 703.7"/>
<path class="t" d="M473.4 697.4L480.3 695.7"/>
<path class="l" d="M464.3 716.3L470.0 711.7L472.3 706.0L492.3 706.0"/>
<path class="k" d="M464.9 715.4L470.0 711.1L471.4 712.6L466.6 716.3Z"/>
<path class="l" d="M438.6 676.3L439.1 683.1L443.7 685.4L447.1 684.3"/>
<path class="l" d="M438.6 676.3L441.4 674.6L448.3 672.9L456.3 672.9"/>
<path class="l" d="M471.1 661.4C471.1 659.9 471.7 657.9 473.4 657.1C475.1 656.3 478.6 656.7 481.4 656.6C484.3 656.6 488.2 656.1 490.6 656.9C493.0 657.7 495.0 659.7 495.7 661.4C496.5 663.1 496.2 665.8 495.1 667.1C494.1 668.5 491.7 669.3 489.4 669.4C487.1 669.6 484.1 668.6 481.4 668.1C478.8 667.5 475.1 667.1 473.4 666.0C471.7 664.9 471.1 662.9 471.1 661.4Z"/>
<path class="h" d="M497.1 662.9C498.3 664.1 502.1 667.7 504.0 670.6C505.9 673.4 507.4 677.0 508.3 680.0C509.1 683.0 509.1 686.1 509.1 688.6C509.1 691.0 508.4 693.6 508.3 694.6"/>
<path class="l" d="M508.3 694.6L516.0 692.9L522.9 692.0L526.3 691.1"/>
<path class="l" d="M517.7 660.3C518.4 661.6 520.9 665.3 522.0 668.0C523.1 670.7 524.1 673.7 524.6 676.6C525.0 679.4 524.9 682.6 524.6 685.1C524.3 687.7 523.1 690.9 522.9 692.0"/>
<path class="l" d="M522.9 651.7C524.0 652.7 527.7 655.3 529.7 657.7C531.7 660.1 533.7 663.4 534.9 666.3C536.0 669.1 536.1 672.6 536.6 674.9C537.0 677.1 537.3 679.1 537.4 680.0"/>
<path class="l" d="M517.7 660.3C518.3 659.4 520.0 656.7 521.1 655.1C522.3 653.6 523.4 652.0 524.6 650.9C525.7 649.7 527.4 648.7 528.0 648.3"/>
<path class="l" d="M480.0 654.3C481.4 654.1 486.0 653.0 488.6 653.4C491.1 653.9 494.0 655.3 495.4 656.9C496.9 658.4 497.1 661.0 497.1 662.9C497.1 664.7 496.4 666.7 495.4 668.0C494.4 669.3 493.7 670.6 491.1 670.6C488.6 670.6 481.9 668.4 480.0 668.0"/>
<path class="l" d="M496.3 661.1C497.3 661.4 499.6 662.4 502.3 662.9C505.0 663.3 510.1 664.1 512.6 663.7C515.0 663.3 516.0 661.9 516.9 660.3C517.7 658.7 517.6 655.3 517.7 654.3"/>
<path class="t" d="M497.1 658.6C498.3 658.9 501.6 660.0 504.0 660.3C506.4 660.6 509.9 660.9 511.7 660.3C513.6 659.7 514.6 657.4 515.1 656.9"/>
<path class="k" d="M499.7 648.7L509.1 647.4L510.0 657.7L501.4 658.6Z"/>
<path d="M501.4 650.0L504.9 649.6L505.0 652.1L501.6 652.6Z" fill="#fff"/>
<path d="M505.7 653.4L508.7 653.1L508.9 656.0L505.9 656.3Z" fill="#fff"/>
<path d="M501.9 654.3L504.4 654.0L504.6 656.9L502.0 657.1Z" fill="#fff"/>
<path class="k" d="M516.0 648.3L522.9 645.7L523.7 654.3L517.7 656.9Z"/>
<path d="M517.7 649.6L521.1 648.5L521.7 653.0L518.6 654.1Z" fill="#fff"/>
<path class="b" d="M486.9 649.1L522.9 639.7" style="stroke-width:2.6"/>
<path class="m" d="M510.0 647.0L524.6 642.5"/>
<path class="l" d="M491.1 644.0L521.1 631.1L522.9 628.6"/>
<path class="m" d="M505.7 710.0L509.1 702.3L514.3 697.1L517.7 695.4"/>
<path class="m" d="M509.1 710.0L516.0 699.7L519.4 697.1"/>
<path class="l" d="M520.3 650.0C520.9 649.4 522.4 648.3 523.7 646.6C525.0 644.9 526.7 641.7 528.0 639.7C529.3 637.7 530.0 636.0 531.4 634.6C532.9 633.1 534.9 631.9 536.6 631.1C538.3 630.4 540.3 629.9 541.7 630.3C543.1 630.7 544.3 632.1 545.1 633.7C546.0 635.3 546.7 637.7 546.9 639.7C547.0 641.7 546.6 643.7 546.0 645.7C545.4 647.7 544.4 649.9 543.4 651.7C542.4 653.6 541.0 655.4 540.0 656.9C539.0 658.3 537.9 659.7 537.4 660.3"/>
<path class="m" d="M541.7 630.3C542.6 629.9 545.1 628.3 546.9 628.1C548.6 628.0 550.6 628.4 552.0 629.4C553.4 630.5 554.7 632.6 555.4 634.6C556.1 636.6 556.4 639.1 556.3 641.4C556.1 643.7 555.4 646.6 554.6 648.3C553.7 650.0 552.1 650.8 551.1 651.7C550.1 652.6 549.0 653.5 548.6 653.9"/>
<path class="t" d="M545.1 633.7C545.7 633.6 547.6 632.3 548.6 632.9C549.6 633.4 550.6 635.4 551.1 637.1C551.7 638.9 552.0 641.1 551.8 643.1C551.6 645.1 550.5 647.6 549.9 649.1C549.2 650.7 548.1 652.0 547.7 652.6"/>
<ellipse class="l" cx="538.3" cy="642.7" rx="2.9" ry="3.9" transform="rotate(-15 538.3 642.7)"/>
<path class="t" d="M536.6 640.1C537.0 640.1 538.5 639.6 539.1 640.1C539.8 640.6 540.4 642.2 540.4 643.1C540.5 644.1 539.7 645.3 539.6 645.7"/>
<path class="l" d="M537.4 661.1L547.7 657.7L548.6 679.1L540.0 683.4Z"/>
<path class="h" d="M537.4 661.1C537.6 662.3 538.1 665.7 538.3 668.0C538.4 670.3 538.0 672.3 538.3 674.9C538.6 677.4 539.7 682.0 540.0 683.4"/>
<path class="l" d="M547.7 657.7L552.0 656.0"/>
<path class="l" d="M552.0 656.0C552.4 657.1 554.1 659.7 554.6 662.9C555.0 666.0 554.9 672.1 554.6 674.9C554.3 677.6 553.9 678.4 552.9 679.1C551.9 679.9 549.3 679.1 548.6 679.1"/>
<path class="b" d="M550.3 656.0C550.8 657.1 553.0 660.4 553.5 662.9C554.1 665.3 553.7 669.3 553.7 670.6" style="stroke-width:2.6"/>
<path class="t" d="M540.0 676.6L548.6 673.1"/>
<path class="t" d="M547.7 657.7L543.4 660.3L539.1 664.6"/>
<path class="l" d="M552.9 679.1C552.1 679.6 550.7 681.0 548.6 681.7C546.4 682.4 542.6 682.9 540.0 683.4C537.4 684.0 535.1 684.3 533.1 685.1C531.1 686.0 529.1 687.6 528.0 688.6C526.9 689.6 526.6 690.7 526.3 691.1"/>
<path class="l" d="M546.9 683.4C546.6 684.3 546.3 686.7 545.1 688.6C544.0 690.4 542.3 692.7 540.0 694.6C537.7 696.4 534.3 698.6 531.4 699.7C528.6 700.9 525.0 701.9 522.9 701.4C520.7 701.0 519.0 698.3 518.6 697.1C518.1 696.0 519.0 695.6 520.3 694.6C521.6 693.6 525.3 691.7 526.3 691.1"/>
<path class="l" d="M549.4 682.6C549.1 683.6 548.9 686.4 547.7 688.6C546.6 690.7 544.7 693.4 542.6 695.4C540.4 697.4 537.6 699.4 534.9 700.6C532.1 701.8 527.7 702.4 526.3 702.7"/>
<path class="l" d="M531.4 691.1L534.9 688.6L535.7 695.4L532.3 698.0L530.6 695.4Z"/>
<path class="l" d="M538.3 686.9L540.0 685.1L540.9 691.1L538.3 693.7"/>
<path class="t" d="M542.6 685.1L543.9 690.3L541.3 693.7"/>
<path class="t" d="M528.0 688.6L529.7 693.7L528.0 699.7"/>
<path class="l" d="M492.3 706.0C492.8 706.8 493.7 709.4 495.1 710.6C496.6 711.7 498.8 713.0 500.9 712.9C503.0 712.7 505.4 711.0 507.7 709.4C510.0 707.9 512.9 705.4 514.6 703.7C516.3 702.0 517.6 700.5 518.0 699.1C518.4 697.8 517.8 696.1 516.9 695.7C515.9 695.3 513.4 696.5 512.3 696.9C511.1 697.2 510.4 697.8 510.0 698.0"/>
<path class="l" d="M497.4 703.7C497.8 704.3 498.6 706.4 499.7 707.1C500.9 707.9 503.5 708.1 504.3 708.3"/>
<path class="m" d="M510.0 698.0L505.4 707.1L504.3 710.6"/>
<ellipse class="t" cx="498.6" cy="705.4" rx="1.0" ry="1.0" transform="rotate(0 498.6 705.4)"/>
</g>

<g id="booster">
<path class="m" d="M680.5 427.1C682.0 427.0 686.2 426.4 689.1 426.4C692.0 426.4 694.9 426.7 697.9 427.1C700.9 427.6 703.9 428.3 706.9 429.2C709.9 430.1 712.9 431.2 715.9 432.5C718.9 433.8 721.9 435.4 724.8 437.1C727.8 438.8 730.7 440.8 733.6 442.9C736.5 445.1 739.3 447.4 742.1 449.9C744.9 452.4 747.6 455.1 750.3 457.9C752.9 460.7 755.5 463.7 757.9 466.9C760.4 470.0 762.8 473.3 765.1 476.7C767.3 480.1 769.5 483.7 771.5 487.3C773.6 490.9 775.5 494.7 777.3 498.5C779.1 502.3 780.7 506.2 782.2 510.2C783.8 514.1 785.1 518.2 786.4 522.2C787.6 526.3 788.7 530.4 789.6 534.5C790.5 538.5 791.3 542.7 791.9 546.7C792.5 550.8 792.9 554.9 793.2 559.0C793.5 563.0 793.6 567.0 793.6 570.9C793.5 574.9 793.3 578.7 793.0 582.5C792.6 586.3 792.1 590.0 791.4 593.6C790.7 597.2 789.8 600.7 788.8 604.1C787.8 607.4 786.7 610.7 785.4 613.7C784.0 616.8 782.6 619.8 781.0 622.5C779.4 625.3 777.7 627.9 775.8 630.4C774.0 632.8 772.0 635.0 769.9 637.1C767.8 639.2 764.3 641.8 763.2 642.7"/>
<path class="t" d="M686.3 427.8C687.7 427.8 692.0 427.7 694.9 428.0C697.9 428.3 700.8 428.8 703.8 429.5C706.7 430.3 709.7 431.2 712.7 432.4C715.7 433.6 718.7 434.9 721.6 436.5C724.5 438.1 727.5 439.9 730.4 441.9C733.3 443.9 736.1 446.0 738.9 448.4C741.7 450.7 744.5 453.3 747.1 456.0C749.8 458.7 752.4 461.6 754.9 464.6C757.4 467.6 759.8 470.8 762.1 474.0C764.4 477.3 766.7 480.8 768.8 484.3C770.9 487.8 772.9 491.5 774.7 495.2C776.6 498.9 778.3 502.8 779.9 506.6C781.5 510.5 783.0 514.5 784.3 518.5C785.6 522.4 786.8 526.5 787.8 530.5C788.8 534.6 789.7 538.6 790.4 542.7C791.1 546.8 791.6 550.8 792.0 554.8C792.4 558.9 792.6 562.9 792.7 566.8C792.7 570.7 792.6 574.6 792.4 578.4C792.1 582.2 791.7 586.0 791.1 589.6C790.5 593.2 789.8 596.7 788.9 600.1C788.0 603.5 786.9 606.9 785.7 610.0C784.5 613.1 783.1 616.2 781.7 619.0C780.2 621.8 778.5 624.5 776.8 627.1C775.0 629.6 773.1 631.9 771.1 634.1C769.1 636.2 765.8 639.0 764.7 640.0"/>
<path class="l" d="M682.6 427.0C684.1 427.1 688.5 427.0 691.5 427.4C694.5 427.7 697.6 428.3 700.6 429.1C703.6 429.9 706.7 430.9 709.8 432.1C712.8 433.4 715.9 434.9 718.9 436.6C721.9 438.2 725.0 440.2 727.9 442.3C730.9 444.4 733.8 446.7 736.6 449.2C739.5 451.7 742.3 454.4 745.0 457.2C747.7 460.1 750.3 463.1 752.9 466.3C755.4 469.4 757.8 472.8 760.2 476.2C762.5 479.7 764.7 483.3 766.8 487.0C768.9 490.7 770.8 494.5 772.7 498.4C774.5 502.3 776.2 506.3 777.7 510.3C779.3 514.3 780.7 518.4 781.9 522.6C783.1 526.7 784.2 530.9 785.1 535.0C786.0 539.2 786.8 543.4 787.4 547.6C788.0 551.7 788.4 555.9 788.6 560.0C788.9 564.1 788.9 568.1 788.8 572.1C788.7 576.1 788.5 580.0 788.0 583.9C787.6 587.7 787.0 591.4 786.2 595.0C785.4 598.7 784.5 602.2 783.4 605.5C782.3 608.9 781.0 612.1 779.6 615.2C778.2 618.2 776.6 621.1 774.9 623.9C773.2 626.6 771.4 629.1 769.4 631.5C767.4 633.8 765.3 636.0 763.1 638.0C760.9 639.9 758.5 641.7 756.1 643.2C753.6 644.7 751.1 646.1 748.4 647.1C745.8 648.2 741.6 649.3 740.3 649.7"/>
<path class="g" d="M684.0 425.2C685.2 424.3 688.5 421.4 690.9 419.9C693.3 418.3 695.8 416.9 698.4 415.7C700.9 414.6 703.6 413.6 706.3 412.9C709.0 412.2 711.9 411.7 714.7 411.4C717.6 411.2 720.5 411.1 723.4 411.3C726.4 411.4 729.4 411.8 732.4 412.4C735.4 413.1 738.4 413.9 741.4 414.9C744.4 416.0 747.5 417.3 750.5 418.7C753.5 420.2 756.5 421.9 759.4 423.8C762.4 425.7 765.3 427.8 768.2 430.0C771.1 432.3 773.9 434.8 776.7 437.4C779.4 440.0 782.1 442.8 784.7 445.8C787.3 448.7 789.9 451.9 792.3 455.1C794.7 458.3 797.0 461.7 799.3 465.2C801.5 468.7 803.6 472.4 805.6 476.1C807.5 479.8 809.4 483.7 811.1 487.5C812.9 491.4 814.5 495.4 815.9 499.4C817.3 503.4 818.6 507.5 819.8 511.6C820.9 515.7 821.9 519.8 822.8 523.9C823.6 528.1 824.3 532.2 824.8 536.3C825.3 540.4 825.7 544.5 825.9 548.6C826.1 552.6 826.1 556.6 826.0 560.5C825.9 564.4 825.6 568.3 825.1 572.1C824.7 575.8 824.1 579.5 823.3 583.1C822.5 586.7 821.6 590.1 820.5 593.4C819.4 596.7 818.1 599.9 816.8 603.0C815.4 606.0 813.8 608.9 812.2 611.6C810.5 614.3 808.7 616.9 806.8 619.2C804.8 621.6 802.8 623.8 800.6 625.8C798.4 627.7 796.1 629.5 793.8 631.1C791.4 632.7 788.9 634.1 786.3 635.2C783.7 636.4 781.1 637.3 778.3 638.1C775.6 638.8 771.4 639.3 770.0 639.6"/>
<path class="l" d="M680.0 427.0C681.1 426.0 684.4 422.7 686.7 420.9C689.1 419.1 691.6 417.5 694.1 416.1C696.7 414.7 699.4 413.5 702.1 412.5C704.8 411.6 707.7 410.9 710.6 410.4C713.4 409.9 716.4 409.6 719.4 409.6C722.4 409.6 725.5 409.8 728.5 410.3C731.6 410.7 734.7 411.4 737.8 412.3C740.9 413.2 744.0 414.3 747.1 415.7C750.3 417.1 753.4 418.6 756.4 420.4C759.5 422.2 762.6 424.2 765.5 426.4C768.5 428.6 771.5 431.1 774.4 433.6C777.3 436.2 780.1 439.0 782.8 442.0C785.5 444.9 788.2 448.0 790.8 451.3C793.3 454.5 795.8 458.0 798.1 461.5C800.5 465.0 802.7 468.7 804.8 472.5C806.9 476.3 808.9 480.2 810.8 484.1C812.6 488.1 814.3 492.2 815.9 496.3C817.4 500.4 818.8 504.6 820.1 508.8C821.3 513.0 822.4 517.2 823.4 521.5C824.3 525.7 825.0 530.0 825.6 534.2C826.2 538.4 826.7 542.7 826.9 546.9C827.2 551.0 827.3 555.2 827.2 559.2C827.1 563.3 826.8 567.3 826.4 571.2C826.0 575.1 825.4 578.9 824.6 582.6C823.9 586.3 822.9 589.9 821.9 593.4C820.8 596.8 819.5 600.1 818.1 603.3C816.7 606.4 815.1 609.4 813.4 612.2C811.8 615.0 809.9 617.7 807.9 620.1C806.0 622.6 803.8 624.9 801.6 626.9C799.4 629.0 797.0 630.8 794.6 632.5C792.1 634.1 789.6 635.5 786.9 636.7C784.3 637.9 781.5 638.9 778.7 639.6C775.9 640.3 771.5 640.9 770.1 641.1"/>
<path class="l" d="M684.5 427.1C685.7 426.2 689.0 423.3 691.4 421.7C693.8 420.1 696.3 418.7 698.9 417.5C701.5 416.3 704.2 415.4 706.9 414.6C709.7 413.9 712.5 413.4 715.4 413.1C718.2 412.9 721.2 412.8 724.2 413.0C727.1 413.2 730.2 413.7 733.2 414.3C736.2 415.0 739.3 415.8 742.3 416.9C745.3 418.0 748.4 419.4 751.4 420.9C754.5 422.4 757.5 424.2 760.4 426.2C763.4 428.1 766.4 430.3 769.2 432.6C772.1 435.0 775.0 437.5 777.7 440.2C780.4 443.0 783.1 445.9 785.7 448.9C788.3 451.9 790.8 455.2 793.2 458.5C795.6 461.8 797.9 465.3 800.1 468.9C802.3 472.5 804.3 476.2 806.3 480.0C808.2 483.8 810.0 487.7 811.6 491.7C813.3 495.7 814.8 499.7 816.2 503.8C817.5 507.9 818.7 512.0 819.8 516.1C820.8 520.3 821.7 524.5 822.4 528.6C823.2 532.8 823.7 536.9 824.1 541.0C824.5 545.2 824.7 549.3 824.8 553.3C824.9 557.3 824.7 561.3 824.5 565.2C824.2 569.1 823.7 572.9 823.1 576.6C822.5 580.3 821.7 583.9 820.8 587.4C819.8 590.8 818.7 594.2 817.5 597.4C816.2 600.6 814.8 603.7 813.3 606.5C811.7 609.4 810.0 612.2 808.2 614.7C806.3 617.2 804.4 619.6 802.3 621.7C800.2 623.9 798.0 625.9 795.6 627.6C793.3 629.4 790.9 630.9 788.4 632.2C785.8 633.6 783.2 634.7 780.5 635.5C777.8 636.4 775.0 637.1 772.2 637.5C769.3 637.9 764.9 638.0 763.5 638.1"/>
<path class="t" d="M694.7 417.8C696.0 417.2 699.9 415.2 702.7 414.3C705.4 413.3 708.3 412.6 711.1 412.1C714.0 411.6 717.0 411.4 720.0 411.4C723.0 411.4 726.1 411.6 729.1 412.1C732.2 412.5 735.3 413.2 738.4 414.2C741.6 415.1 744.7 416.3 747.8 417.7C750.9 419.1 754.0 420.7 757.1 422.5C760.1 424.4 763.2 426.4 766.2 428.7C769.2 430.9 772.1 433.4 775.0 436.0C777.8 438.6 780.7 441.5 783.4 444.5C786.1 447.5 788.7 450.6 791.2 453.9C793.8 457.3 796.2 460.7 798.5 464.3C800.8 467.9 803.0 471.6 805.1 475.5C807.1 479.3 809.1 483.2 810.8 487.2C812.6 491.2 814.3 495.3 815.8 499.5C817.3 503.6 818.6 507.8 819.8 512.0C820.9 516.2 822.0 520.5 822.8 524.8C823.7 529.0 824.3 533.3 824.8 537.5C825.3 541.7 825.7 546.0 825.8 550.1C826.0 554.3 826.0 558.4 825.8 562.4C825.6 566.4 825.2 570.4 824.7 574.2C824.2 578.1 823.5 581.8 822.6 585.4C821.7 589.0 820.7 592.6 819.5 595.9C818.3 599.2 816.9 602.5 815.4 605.5C813.9 608.5 812.2 611.4 810.4 614.1C808.6 616.8 806.6 619.3 804.5 621.6C802.4 623.9 800.2 626.0 797.9 627.8C795.6 629.7 791.8 632.0 790.6 632.8"/>
<path class="l" d="M731.0 402.4C732.6 402.5 737.1 402.6 740.2 403.1C743.3 403.6 746.5 404.3 749.6 405.2C752.7 406.1 755.9 407.3 759.0 408.7C762.1 410.0 765.3 411.7 768.4 413.5C771.4 415.3 774.5 417.3 777.5 419.5C780.5 421.8 783.5 424.2 786.4 426.8C789.3 429.4 792.2 432.2 794.9 435.2C797.7 438.2 800.3 441.3 802.9 444.6C805.5 447.9 808.0 451.3 810.3 454.9C812.7 458.5 815.0 462.2 817.1 466.0C819.2 469.8 821.2 473.7 823.1 477.7C824.9 481.7 826.7 485.8 828.2 489.9C829.8 494.0 831.2 498.2 832.5 502.5C833.8 506.7 834.9 511.0 835.8 515.3C836.8 519.5 837.6 523.8 838.2 528.1C838.8 532.4 839.2 536.6 839.5 540.8C839.8 545.0 839.9 549.2 839.8 553.3C839.8 557.4 839.5 561.5 839.1 565.4C838.7 569.3 838.1 573.2 837.4 576.9C836.6 580.7 835.7 584.3 834.7 587.8C833.6 591.3 832.3 594.7 831.0 597.8C829.6 601.0 828.0 604.1 826.3 607.0C824.6 609.8 822.8 612.5 820.8 615.0C818.9 617.5 816.8 619.8 814.6 622.0C812.3 624.1 810.0 626.0 807.5 627.7C805.1 629.4 802.5 630.8 799.9 632.1C797.2 633.3 794.5 634.4 791.7 635.2C788.9 636.0 784.4 636.6 783.0 636.9"/>
<path class="l" d="M780.0 412.9C781.4 413.5 785.7 415.4 788.6 417.0C791.4 418.5 794.3 420.3 797.1 422.3C799.9 424.2 802.6 426.4 805.3 428.7C808.0 431.0 810.6 433.5 813.2 436.2C815.8 438.8 818.3 441.7 820.7 444.6C823.1 447.6 825.4 450.7 827.6 453.9C829.8 457.2 831.9 460.5 833.9 464.0C835.9 467.4 837.8 471.0 839.5 474.7C841.3 478.3 842.9 482.0 844.4 485.8C845.9 489.6 847.2 493.5 848.4 497.3C849.7 501.2 850.7 505.1 851.6 509.1C852.5 513.0 853.3 516.9 853.9 520.8C854.5 524.8 854.9 528.7 855.2 532.6C855.5 536.4 855.6 540.3 855.6 544.1C855.6 547.8 855.4 551.6 855.0 555.2C854.7 558.8 854.2 562.4 853.5 565.9C852.9 569.3 852.0 572.7 851.1 575.9C850.1 579.1 848.3 583.6 847.7 585.1"/>
<path class="t" d="M782.2 415.5C783.7 416.3 788.2 418.4 791.1 420.1C794.0 421.9 797.0 423.8 799.8 426.0C802.6 428.2 805.5 430.6 808.2 433.1C810.9 435.6 813.6 438.4 816.2 441.3C818.7 444.2 821.2 447.3 823.6 450.5C826.0 453.7 828.3 457.1 830.4 460.5C832.6 464.0 834.6 467.6 836.5 471.3C838.4 475.0 840.2 478.8 841.9 482.7C843.5 486.6 845.0 490.5 846.3 494.5C847.6 498.5 848.8 502.5 849.8 506.6C850.8 510.6 851.7 514.7 852.3 518.8C853.0 522.8 853.5 526.9 853.9 530.9C854.2 534.9 854.4 538.9 854.3 542.8C854.3 546.7 854.2 550.6 853.8 554.4C853.4 558.1 852.9 561.8 852.2 565.4C851.5 568.9 850.6 572.4 849.6 575.7C848.6 579.0 846.6 583.6 846.1 585.2"/>
<path class="l" d="M760.0 404.3C762.9 405.9 771.4 410.1 777.1 414.0C782.9 417.9 789.0 422.8 794.3 427.7C799.6 432.7 804.4 437.6 809.1 443.7C813.9 449.8 818.0 456.6 822.9 464.3C827.7 472.0 834.8 483.2 838.3 490.0C841.8 496.8 842.3 499.1 844.0 504.9C845.7 510.6 847.4 518.2 848.6 524.3C849.7 530.4 850.5 535.7 850.9 541.4C851.2 547.1 851.2 553.0 850.9 558.6C850.5 564.1 849.5 570.2 848.6 574.6C847.6 579.0 846.9 581.0 845.1 584.9C843.4 588.7 841.1 593.0 838.3 597.4C835.4 601.8 832.0 606.8 828.0 611.1C824.0 615.5 819.4 619.9 814.3 623.7C809.1 627.5 800.0 632.3 797.1 634.0"/>
<path class="l" d="M818.7 428.2C819.9 429.2 823.5 432.1 825.8 434.3C828.1 436.5 830.4 438.9 832.6 441.3C834.7 443.8 836.9 446.4 838.9 449.1C840.9 451.9 842.8 454.7 844.7 457.7C846.5 460.6 848.3 463.7 849.9 466.8C851.6 469.9 853.1 473.1 854.5 476.4C855.9 479.7 857.2 483.0 858.4 486.4C859.6 489.7 860.6 493.2 861.5 496.6C862.5 500.0 863.2 503.5 863.9 506.9C864.5 510.4 865.0 513.8 865.4 517.3C865.8 520.7 866.0 524.1 866.1 527.4C866.2 530.8 866.2 534.1 866.0 537.4C865.8 540.6 865.4 543.8 865.0 546.9C864.5 550.0 863.9 553.0 863.2 555.9C862.4 558.8 861.5 561.7 860.5 564.4C859.5 567.0 858.4 569.6 857.1 572.0C855.9 574.5 854.5 576.8 853.0 578.9C851.5 581.0 849.0 583.9 848.2 584.9"/>
<path class="t" d="M853.1 535.7L855.4 535.7L855.4 555.1L853.1 555.1Z"/>
<path class="l" d="M625.4 465.7C626.3 464.5 628.8 460.6 630.9 458.3C632.9 456.0 635.2 454.1 637.7 452.0C640.2 449.9 642.5 448.2 645.7 445.7C649.0 443.2 653.3 439.7 657.1 437.1C661.0 434.6 664.8 432.4 668.6 430.3C672.4 428.2 675.7 427.3 680.0 424.6C684.3 421.9 689.0 417.1 694.3 414.0C699.5 410.9 705.7 408.1 711.4 406.0C717.1 403.9 725.2 402.3 728.6 401.4C731.9 400.6 729.0 401.0 731.4 400.9C733.8 400.7 738.1 399.8 742.9 400.3C747.6 400.8 754.7 402.4 760.0 403.7C765.3 405.0 770.9 407.0 774.9 408.3C778.9 409.5 781.0 410.6 784.0 411.1C787.0 411.7 791.6 411.6 793.1 411.7"/>
<path class="l" d="M793.1 411.7L819.4 428.3"/>
<path class="l" d="M811.4 434.0L818.9 428.3"/>
<path class="h" d="M678.9 425.4C681.0 424.4 687.4 421.3 691.4 419.7C695.4 418.1 699.0 416.9 702.9 415.8C706.7 414.6 711.5 413.6 714.3 412.8C717.0 412.0 718.6 411.1 719.4 410.8"/>
<path class="m" d="M848.6 582.6C847.8 583.7 845.9 586.6 844.0 589.4C842.1 592.3 839.6 596.3 837.1 599.7C834.7 603.1 832.0 606.8 829.1 610.0C826.3 613.2 823.4 616.3 820.0 619.1C816.6 622.0 812.4 624.8 808.6 627.1C804.8 629.5 801.0 631.5 797.1 633.4C793.3 635.3 789.5 637.2 785.7 638.6C781.9 639.9 777.7 640.8 774.3 641.4C770.9 642.0 766.7 642.1 765.1 642.2"/>
<path class="m" d="M820.0 620.3C818.1 621.6 812.4 625.9 808.6 628.3C804.8 630.7 801.0 632.7 797.1 634.6C793.3 636.4 789.0 638.3 785.7 639.5C782.5 640.6 779.0 641.1 777.7 641.4"/>
<path class="l" d="M765.1 642.0C764.0 642.4 761.0 643.4 758.3 644.3C755.6 645.1 752.2 646.4 749.1 647.1C746.1 647.9 743.4 648.4 740.0 648.9C736.6 649.3 732.6 650.0 728.6 650.0C724.6 650.0 720.0 649.6 716.0 648.9C712.0 648.1 708.4 646.9 704.6 645.4C700.8 644.0 697.0 642.5 693.1 640.3C689.3 638.1 685.1 635.0 681.7 632.3C678.3 629.5 675.2 626.5 672.6 623.7C669.9 621.0 666.9 617.0 665.7 615.7"/>
<path class="l" d="M717.1 649.7C719.0 649.5 724.8 649.3 728.6 648.9C732.4 648.5 736.6 648.2 740.0 647.3C743.4 646.3 746.1 644.6 749.1 643.1C752.2 641.7 755.4 640.5 758.3 638.6C761.1 636.7 763.8 634.0 766.3 631.7C768.8 629.4 772.0 626.0 773.1 624.9"/>
<path class="l" d="M624.6 478.9C624.5 481.0 624.3 486.7 624.2 491.4C624.1 496.1 623.8 501.7 624.0 507.1C624.2 512.6 624.5 518.6 625.1 524.3C625.8 530.0 626.8 535.7 628.0 541.4C629.2 547.1 631.0 553.4 632.6 558.6C634.2 563.7 637.0 570.4 637.7 572.3C638.5 574.2 636.1 568.3 637.1 570.0C638.2 571.7 642.9 580.5 644.0 582.6"/>
<path class="l" d="M644.0 582.6C643.7 584.7 642.2 591.3 642.3 595.1C642.4 599.0 643.3 602.5 644.6 605.4C645.8 608.4 647.9 611.1 649.7 612.9C651.5 614.6 653.5 615.6 655.4 615.7C657.3 615.8 659.0 614.6 661.1 613.4C663.2 612.3 665.9 609.5 668.0 608.9C670.1 608.2 672.4 608.8 673.7 609.4C675.0 610.1 676.1 611.3 676.0 612.9C675.9 614.4 674.5 617.7 673.1 618.6C671.8 619.4 669.2 618.6 668.0 618.0C666.8 617.4 666.1 615.6 665.7 615.1"/>
<path class="t" d="M645.4 584.9C645.1 586.6 643.7 591.9 643.8 595.1C643.9 598.4 644.9 601.6 646.1 604.3C647.2 607.0 649.0 609.5 650.6 611.1C652.2 612.8 654.1 613.8 655.7 614.0C657.2 614.2 659.3 612.6 660.0 612.3"/>
<path class="t" d="M661.1 612.3L665.7 615.7"/>
<path class="t" d="M670.3 608.9L668.0 613.4"/>
<path class="t" d="M666.9 615.1L672.6 619.7"/>
<path class="t" d="M665.1 610.6L670.3 614.8"/>
<path class="m" d="M647.1 578.9C646.5 577.6 644.6 573.8 643.5 571.2C642.3 568.6 641.3 565.9 640.3 563.2C639.4 560.4 638.5 557.7 637.8 554.9C637.0 552.2 636.4 549.4 635.9 546.6C635.3 543.8 634.9 541.1 634.6 538.3C634.2 535.5 634.0 532.8 633.9 530.1C633.8 527.4 633.8 524.7 633.9 522.1C634.1 519.4 634.3 516.8 634.6 514.3C635.0 511.8 635.4 509.3 636.0 507.0C636.5 504.6 637.2 502.3 637.9 500.1C638.7 497.9 639.5 495.8 640.5 493.7C641.5 491.7 642.5 489.8 643.7 488.0C644.8 486.2 646.1 484.6 647.4 483.0C648.7 481.5 650.1 480.0 651.6 478.7C653.1 477.4 654.6 476.3 656.3 475.3C657.9 474.2 659.6 473.4 661.3 472.6C663.1 471.9 664.9 471.3 666.7 470.8C668.6 470.4 670.5 470.1 672.4 470.0C674.3 469.8 676.3 469.8 678.3 470.0C680.3 470.2 682.3 470.5 684.3 470.9C686.3 471.4 688.4 472.0 690.4 472.7C692.4 473.5 694.5 474.4 696.5 475.4C698.5 476.5 700.5 477.7 702.5 479.0C704.5 480.3 706.4 481.7 708.4 483.3C710.3 484.9 712.2 486.6 714.0 488.4C715.9 490.2 717.7 492.1 719.4 494.1C721.1 496.1 722.8 498.3 724.4 500.5C726.0 502.7 727.6 505.0 729.0 507.4C730.5 509.8 731.9 512.3 733.2 514.8C734.5 517.3 735.7 519.9 736.9 522.5C738.0 525.2 739.0 527.9 740.0 530.6C740.9 533.3 741.8 536.0 742.5 538.8C743.2 541.6 743.9 544.3 744.4 547.1C744.9 549.9 745.4 552.7 745.7 555.4C746.0 558.2 746.2 560.9 746.3 563.6C746.4 566.3 746.4 569.0 746.2 571.7C746.1 574.3 745.7 578.1 745.5 579.4"/>
<path class="t" d="M643.6 573.5C643.1 572.1 641.3 568.1 640.3 565.4C639.3 562.7 638.4 559.9 637.6 557.1C636.8 554.3 636.0 551.4 635.4 548.6C634.9 545.8 634.4 543.0 634.0 540.2C633.6 537.3 633.3 534.5 633.2 531.8C633.0 529.0 633.0 526.2 633.0 523.6C633.1 520.9 633.3 518.2 633.6 515.6C633.9 513.0 634.3 510.5 634.8 508.0C635.3 505.6 635.9 503.2 636.6 500.9C637.4 498.6 638.2 496.4 639.1 494.3C640.0 492.3 641.1 490.3 642.2 488.4C643.3 486.5 644.6 484.7 645.9 483.1C647.2 481.5 648.6 480.0 650.0 478.6C651.5 477.2 653.1 476.0 654.7 474.9C656.3 473.8 658.0 472.8 659.8 472.0C661.5 471.2 663.3 470.5 665.2 470.0C667.0 469.5 669.0 469.1 670.9 468.9C672.8 468.7 674.8 468.7 676.8 468.8C678.8 468.9 680.9 469.1 682.9 469.5C685.0 469.9 687.1 470.5 689.1 471.2C691.2 471.9 693.3 472.7 695.3 473.7C697.4 474.7 699.4 475.9 701.5 477.2C703.5 478.4 705.5 479.8 707.5 481.4C709.4 482.9 711.4 484.6 713.3 486.4C715.2 488.2 717.0 490.1 718.8 492.1C720.6 494.1 722.3 496.3 724.0 498.5C725.6 500.7 727.2 503.0 728.8 505.4C730.3 507.8 731.7 510.3 733.1 512.8C734.4 515.4 735.7 518.0 736.9 520.6C738.1 523.3 739.2 526.0 740.2 528.8C741.2 531.5 742.1 534.3 742.9 537.1C743.6 539.9 744.3 542.7 744.9 545.6C745.5 548.4 746.0 551.2 746.3 554.0C746.7 556.8 746.9 559.6 747.1 562.4C747.2 565.2 747.1 569.2 747.1 570.6"/>
<path class="l" d="M670.9 609.3C671.9 610.1 675.1 612.7 677.3 614.2C679.5 615.6 681.7 617.0 684.0 618.1C686.2 619.2 688.4 620.2 690.7 621.0C692.9 621.8 695.2 622.4 697.4 622.8C699.6 623.2 701.9 623.5 704.0 623.5C706.2 623.6 708.4 623.4 710.5 623.1C712.5 622.8 714.6 622.3 716.6 621.7C718.6 621.0 721.4 619.5 722.3 619.1"/>
<path class="l" d="M735.7 532.0C736.6 534.5 737.5 537.1 738.2 539.7C739.0 542.2 739.7 544.8 740.3 547.4C740.9 550.0 741.4 552.6 741.8 555.2C742.2 557.8 742.5 560.4 742.8 562.9C743.0 565.4 743.1 567.9 743.1 570.4C743.2 572.9 743.1 575.3 742.9 577.7C742.8 580.1 742.5 582.4 742.2 584.6C741.8 586.9 741.4 589.1 740.8 591.1C740.3 593.2 739.6 595.3 738.9 597.2C738.2 599.1 737.4 601.0 736.5 602.7C735.6 604.4 734.6 606.0 733.6 607.6C732.5 609.1 731.4 610.5 730.2 611.8C729.0 613.0 727.7 614.2 726.3 615.2C725.0 616.3 723.6 617.2 722.1 618.0C720.6 618.7 719.1 619.4 717.5 619.9C716.0 620.4 714.4 620.8 712.7 621.0C711.0 621.3 709.3 621.4 707.6 621.3C705.9 621.3 704.1 621.1 702.4 620.8C700.6 620.5 698.8 620.0 697.0 619.4C695.2 618.9 693.4 618.1 691.6 617.3C689.8 616.4 687.9 615.5 686.1 614.3C684.3 613.2 682.5 612.0 680.8 610.7C679.0 609.3 677.3 607.8 675.6 606.3C673.8 604.7 672.2 603.0 670.5 601.2C668.9 599.4 667.3 597.5 665.7 595.6C664.2 593.6 662.7 591.5 661.2 589.4C659.8 587.3 658.4 585.0 657.1 582.7C655.8 580.5 654.5 578.1 653.3 575.7C652.2 573.3 651.0 570.8 650.0 568.4C649.0 565.9 648.0 563.3 647.2 560.8C646.3 558.2 645.6 555.6 644.9 553.1C644.2 550.5 643.6 547.9 643.1 545.3C642.6 542.7 642.2 540.1 641.8 537.5C641.5 535.0 641.3 532.4 641.2 529.9C641.1 527.4 641.0 524.9 641.1 522.5C641.2 520.1 641.3 517.7 641.6 515.4C641.8 513.1 642.2 510.8 642.6 508.7C643.1 506.5 643.6 504.4 644.3 502.4C644.9 500.4 645.6 498.4 646.4 496.6C647.2 494.8 648.1 493.0 649.1 491.4C650.1 489.8 651.2 488.3 652.3 486.9C653.4 485.5 654.6 484.2 655.9 483.0C657.2 481.9 658.5 480.8 659.9 479.9C661.3 479.0 662.8 478.2 664.3 477.6C665.9 476.9 667.4 476.4 669.0 476.0C670.7 475.7 672.3 475.4 674.0 475.3C675.7 475.2 677.4 475.3 679.2 475.4C680.9 475.6 682.7 475.9 684.5 476.4C686.3 476.8 688.1 477.4 689.9 478.1C691.7 478.9 693.6 479.7 695.4 480.7C697.2 481.7 699.0 482.8 700.8 484.0C702.5 485.2 704.3 486.6 706.0 488.0C707.8 489.5 709.5 491.1 711.2 492.8C712.9 494.5 714.5 496.3 716.1 498.1C717.7 500.0 719.3 502.0 720.8 504.1C722.3 506.1 723.7 508.3 725.1 510.5C726.5 512.7 727.8 515.0 729.0 517.3C730.3 519.7 731.5 522.1 732.6 524.5C733.7 527.0 734.7 529.5 735.7 532.0Z"/>
<path class="l" d="M728.0 530.0C728.9 532.2 729.7 534.4 730.5 536.6C731.3 538.8 732.0 541.0 732.6 543.2C733.2 545.4 733.7 547.7 734.2 549.9C734.6 552.1 735.0 554.3 735.3 556.5C735.6 558.7 735.8 560.9 735.9 563.0C736.0 565.2 736.0 567.3 736.0 569.3C735.9 571.4 735.8 573.4 735.5 575.4C735.3 577.4 735.0 579.3 734.6 581.1C734.2 582.9 733.7 584.7 733.2 586.4C732.6 588.1 731.9 589.7 731.2 591.3C730.5 592.8 729.7 594.3 728.9 595.6C728.0 597.0 727.0 598.2 726.0 599.4C725.0 600.6 724.0 601.6 722.8 602.6C721.7 603.5 720.5 604.4 719.2 605.1C718.0 605.8 716.7 606.5 715.3 607.0C714.0 607.5 712.6 607.9 711.2 608.1C709.7 608.4 708.2 608.6 706.7 608.6C705.2 608.6 703.7 608.5 702.1 608.3C700.6 608.1 699.0 607.8 697.4 607.4C695.8 607.0 694.2 606.4 692.6 605.7C691.0 605.1 689.4 604.3 687.8 603.4C686.2 602.5 684.6 601.5 683.0 600.4C681.4 599.3 679.8 598.1 678.3 596.8C676.7 595.5 675.2 594.1 673.7 592.7C672.2 591.2 670.7 589.6 669.3 587.9C667.9 586.3 666.5 584.6 665.2 582.8C663.8 581.0 662.5 579.1 661.3 577.2C660.1 575.2 658.9 573.2 657.8 571.2C656.7 569.2 655.6 567.1 654.7 565.0C653.7 562.9 652.8 560.7 651.9 558.5C651.1 556.3 650.3 554.1 649.6 551.9C648.9 549.7 648.3 547.5 647.8 545.2C647.2 543.0 646.8 540.8 646.4 538.6C646.0 536.4 645.8 534.2 645.6 532.0C645.4 529.8 645.3 527.7 645.2 525.6C645.2 523.5 645.3 521.4 645.4 519.4C645.5 517.4 645.8 515.4 646.1 513.5C646.4 511.6 646.8 509.8 647.3 508.0C647.7 506.2 648.3 504.5 648.9 502.9C649.6 501.3 650.3 499.7 651.1 498.3C651.9 496.8 652.8 495.5 653.7 494.2C654.6 493.0 655.6 491.8 656.7 490.7C657.8 489.7 658.9 488.7 660.1 487.9C661.3 487.0 662.6 486.3 663.9 485.7C665.2 485.1 666.5 484.6 667.9 484.2C669.3 483.8 670.8 483.5 672.2 483.3C673.7 483.2 675.2 483.2 676.7 483.2C678.3 483.3 679.8 483.5 681.4 483.8C683.0 484.2 684.6 484.6 686.2 485.1C687.8 485.7 689.4 486.4 691.0 487.1C692.6 487.9 694.2 488.8 695.8 489.8C697.4 490.8 699.0 491.9 700.6 493.1C702.2 494.3 703.7 495.6 705.2 497.0C706.8 498.4 708.3 499.9 709.7 501.4C711.2 503.0 712.6 504.7 714.0 506.4C715.4 508.1 716.7 509.9 718.0 511.8C719.3 513.7 720.5 515.6 721.7 517.6C722.9 519.6 724.0 521.6 725.0 523.7C726.1 525.8 727.1 527.9 728.0 530.0Z"/>
<path class="t" d="M665.8 581.3C666.5 582.1 668.5 584.7 669.9 586.4C671.3 588.0 672.7 589.5 674.2 591.0C675.6 592.5 677.1 593.8 678.6 595.1C680.2 596.4 681.7 597.6 683.3 598.6C684.8 599.7 686.4 600.7 688.0 601.5C689.5 602.4 691.1 603.2 692.7 603.8C694.3 604.5 695.9 605.0 697.4 605.4C699.0 605.8 700.5 606.1 702.1 606.3C703.6 606.5 705.1 606.5 706.5 606.5C708.0 606.4 709.5 606.3 710.9 606.0C712.3 605.7 713.6 605.3 714.9 604.8C716.3 604.2 717.5 603.6 718.7 602.9C719.9 602.1 721.1 601.3 722.2 600.3C723.3 599.3 724.3 598.3 725.3 597.1C726.3 595.9 727.2 594.7 728.0 593.3C728.8 591.9 729.6 590.5 730.2 589.0C730.9 587.4 731.5 585.8 732.0 584.1C732.6 582.4 733.0 580.6 733.3 578.8C733.7 577.0 734.0 575.1 734.2 573.1C734.3 571.2 734.5 569.2 734.5 567.1C734.5 565.1 734.4 563.0 734.3 560.9C734.1 558.8 733.9 556.6 733.5 554.5C733.2 552.3 732.8 550.1 732.3 548.0C731.8 545.8 731.3 543.6 730.6 541.4C730.0 539.2 729.3 537.1 728.5 534.9C727.7 532.8 726.8 530.6 725.8 528.6C724.9 526.5 723.9 524.4 722.8 522.4C721.8 520.4 720.6 518.4 719.4 516.5C718.2 514.6 717.0 512.7 715.7 511.0C714.4 509.2 713.1 507.5 711.7 505.8C710.3 504.2 708.9 502.6 707.4 501.2C705.9 499.7 704.4 498.3 702.9 497.0C701.4 495.7 699.9 494.5 698.3 493.4C696.8 492.3 695.2 491.4 693.6 490.5C692.0 489.6 690.5 488.8 688.9 488.2C687.3 487.5 685.7 486.9 684.2 486.5C682.6 486.1 681.0 485.8 679.5 485.5C678.0 485.3 676.5 485.3 675.0 485.3C673.5 485.3 672.1 485.5 670.7 485.8C669.3 486.0 667.9 486.4 666.6 486.9C665.3 487.4 664.0 488.0 662.8 488.8C661.5 489.5 660.4 490.3 659.3 491.3C658.2 492.2 657.1 493.3 656.1 494.4C655.2 495.6 654.3 496.8 653.4 498.2C652.6 499.5 651.8 501.0 651.1 502.5C650.4 504.0 649.6 506.5 649.3 507.3"/>
<path class="t" d="M659.8 490.9C660.4 490.5 662.1 489.1 663.4 488.4C664.6 487.7 665.9 487.1 667.3 486.7C668.7 486.2 670.1 485.8 671.5 485.6C673.0 485.4 674.5 485.3 676.0 485.3C677.5 485.3 679.0 485.4 680.6 485.7C682.2 486.0 683.7 486.4 685.3 486.9C686.9 487.4 688.5 488.0 690.2 488.7C691.8 489.4 693.4 490.3 695.0 491.3C696.6 492.2 698.2 493.3 699.7 494.5C701.3 495.6 702.9 496.9 704.4 498.3C705.9 499.7 707.4 501.1 708.9 502.7C710.3 504.2 711.8 505.9 713.1 507.6C714.5 509.3 715.8 511.1 717.1 513.0C718.4 514.9 719.6 516.8 720.8 518.8C722.0 520.8 723.1 522.8 724.1 524.9C725.1 527.0 726.1 529.1 727.0 531.3C727.9 533.4 728.7 535.6 729.5 537.8C730.2 540.0 730.9 542.2 731.5 544.4C732.1 546.6 732.6 548.9 733.0 551.1C733.4 553.3 733.7 555.5 734.0 557.7C734.2 559.9 734.4 562.0 734.4 564.1C734.5 566.2 734.4 569.3 734.4 570.4"/>
<path class="l" d="M665.7 472.6C666.2 472.9 667.6 473.4 668.6 474.3C669.5 475.1 670.9 476.6 671.4 477.7C672.0 478.9 671.9 480.6 672.0 481.1"/>
<path class="l" d="M713.7 607.7C714.0 608.7 715.2 611.5 715.4 613.4C715.6 615.3 714.7 617.5 714.9 619.1C715.0 620.8 716.3 622.5 716.6 623.1"/>
<path class="l" d="M716.6 623.1L738.9 648.3"/>
<path class="l" d="M709.0 539.5C709.3 540.3 709.5 541.1 709.7 541.9C710.0 542.7 710.2 543.5 710.3 544.3C710.5 545.1 710.6 545.9 710.8 546.7C710.9 547.5 710.9 548.3 711.0 549.1C711.0 549.9 711.0 550.7 711.0 551.4C711.0 552.2 711.0 552.9 710.9 553.7C710.8 554.4 710.7 555.1 710.6 555.8C710.4 556.5 710.3 557.2 710.1 557.9C709.9 558.5 709.6 559.2 709.4 559.8C709.1 560.4 708.8 560.9 708.5 561.5C708.2 562.0 707.9 562.5 707.5 563.0C707.1 563.5 706.7 563.9 706.3 564.3C705.9 564.7 705.5 565.1 705.0 565.4C704.6 565.8 704.1 566.1 703.6 566.3C703.1 566.5 702.6 566.8 702.1 566.9C701.6 567.1 701.1 567.2 700.5 567.3C700.0 567.4 699.4 567.4 698.8 567.4C698.3 567.4 697.7 567.4 697.1 567.3C696.5 567.2 696.0 567.1 695.4 566.9C694.8 566.7 694.2 566.5 693.6 566.2C693.0 566.0 692.4 565.7 691.9 565.3C691.3 565.0 690.7 564.6 690.1 564.2C689.6 563.8 689.0 563.4 688.5 562.9C687.9 562.4 687.4 561.9 686.9 561.3C686.3 560.8 685.8 560.2 685.3 559.6C684.9 559.0 684.4 558.4 683.9 557.7C683.5 557.1 683.1 556.4 682.6 555.7C682.2 555.0 681.8 554.2 681.5 553.5C681.1 552.8 680.8 552.0 680.5 551.2C680.2 550.5 679.9 549.7 679.6 548.9C679.4 548.1 679.1 547.3 678.9 546.5C678.7 545.7 678.6 544.9 678.4 544.1C678.3 543.3 678.2 542.5 678.1 541.7C678.0 540.9 678.0 540.1 678.0 539.3C678.0 538.6 678.0 537.8 678.0 537.0C678.1 536.3 678.1 535.5 678.3 534.8C678.4 534.1 678.5 533.4 678.7 532.7C678.8 532.0 679.0 531.4 679.3 530.8C679.5 530.1 679.8 529.5 680.0 529.0C680.3 528.4 680.6 527.8 681.0 527.3C681.3 526.8 681.7 526.3 682.1 525.9C682.4 525.5 682.9 525.1 683.3 524.7C683.7 524.3 684.2 524.0 684.6 523.7C685.1 523.4 685.6 523.2 686.1 523.0C686.6 522.8 687.1 522.6 687.7 522.5C688.2 522.3 688.8 522.3 689.3 522.2C689.9 522.2 690.4 522.2 691.0 522.2C691.6 522.3 692.2 522.4 692.8 522.5C693.3 522.6 693.9 522.8 694.5 523.0C695.1 523.2 695.7 523.5 696.3 523.8C696.9 524.1 697.4 524.4 698.0 524.8C698.6 525.2 699.1 525.6 699.7 526.0C700.3 526.5 700.8 526.9 701.3 527.5C701.9 528.0 702.4 528.5 702.9 529.1C703.4 529.7 703.9 530.3 704.4 530.9C704.8 531.5 705.3 532.2 705.7 532.9C706.2 533.6 706.6 534.3 707.0 535.0C707.3 535.7 707.7 536.5 708.0 537.2C708.4 538.0 708.7 538.8 709.0 539.5Z"/>
<path class="l" d="M686.8 518.5C686.5 518.5 685.3 518.5 684.6 518.5C683.9 518.6 683.1 518.8 682.4 519.0C681.7 519.2 681.1 519.4 680.4 519.7C679.8 520.0 679.1 520.4 678.5 520.8C677.9 521.2 677.3 521.6 676.8 522.1C676.3 522.6 675.7 523.1 675.3 523.7C674.8 524.3 674.3 525.0 673.9 525.6C673.5 526.3 673.1 527.0 672.8 527.8C672.5 528.5 672.2 529.3 671.9 530.1C671.7 530.9 671.5 531.8 671.3 532.7C671.1 533.5 671.0 534.4 670.9 535.4C670.8 536.3 670.8 537.2 670.8 538.2C670.8 539.1 670.8 540.1 670.9 541.1C671.0 542.1 671.1 543.1 671.3 544.1C671.4 545.1 671.6 546.1 671.9 547.1C672.1 548.1 672.4 549.1 672.8 550.1C673.1 551.1 673.5 552.0 673.9 553.0C674.3 554.0 674.7 554.9 675.2 555.9C675.7 556.8 676.2 557.7 676.7 558.6C677.2 559.5 677.8 560.4 678.4 561.2C679.0 562.0 679.6 562.8 680.3 563.6C680.9 564.4 681.6 565.1 682.3 565.8C683.0 566.5 683.7 567.2 684.5 567.8C685.2 568.4 685.9 568.9 686.7 569.5C687.5 570.0 688.2 570.5 689.0 570.9C689.8 571.3 690.6 571.7 691.3 572.0C692.1 572.4 692.9 572.6 693.7 572.9C694.5 573.1 695.3 573.3 696.0 573.4C696.8 573.5 697.6 573.5 698.3 573.5C699.1 573.6 700.2 573.4 700.6 573.4"/>
<path class="m" d="M682.4 521.3C682.1 521.4 681.2 521.7 680.6 522.1C680.0 522.4 679.5 522.7 678.9 523.1C678.4 523.5 677.9 524.0 677.4 524.5C676.9 525.0 676.5 525.5 676.1 526.1C675.6 526.7 675.3 527.3 674.9 527.9C674.6 528.6 674.2 529.3 674.0 530.0C673.7 530.7 673.4 531.5 673.2 532.2C673.0 533.0 672.9 533.8 672.7 534.6C672.6 535.5 672.5 536.3 672.5 537.2C672.4 538.1 672.4 538.9 672.4 539.8C672.5 540.7 672.5 541.6 672.6 542.6C672.7 543.5 672.9 544.4 673.1 545.3C673.3 546.2 673.5 547.2 673.7 548.1C674.0 549.0 674.3 549.9 674.6 550.8C675.0 551.7 675.3 552.6 675.7 553.5C676.1 554.4 676.6 555.3 677.0 556.1C677.5 557.0 678.0 557.8 678.5 558.6C679.0 559.4 679.6 560.2 680.2 560.9C680.7 561.7 681.3 562.4 681.9 563.1C682.6 563.8 683.2 564.4 683.9 565.0C684.5 565.7 685.2 566.2 685.9 566.8C686.6 567.3 687.3 567.8 688.0 568.2C688.7 568.7 689.4 569.1 690.1 569.5C690.8 569.8 691.6 570.1 692.3 570.4C693.0 570.7 693.7 570.9 694.5 571.0C695.2 571.2 695.9 571.3 696.6 571.4C697.3 571.5 698.0 571.5 698.7 571.4C699.4 571.4 700.1 571.3 700.7 571.2C701.4 571.0 702.0 570.9 702.7 570.6C703.3 570.4 704.2 569.9 704.5 569.8"/>
<path class="l" d="M698.3 526.6C698.1 528.1 697.0 532.9 697.1 535.7C697.3 538.6 698.3 541.2 699.4 543.7C700.6 546.2 702.3 548.7 704.0 550.6C705.7 552.5 708.8 554.4 709.7 555.1"/>
<path class="l" d="M701.7 530.0C702.5 531.3 705.0 535.1 706.3 538.0C707.6 540.9 709.1 545.6 709.7 547.1"/>
<path class="l" d="M691.7 527.7L712.6 520.1"/>
<path class="l" d="M689.3 521.3L710.2 513.6"/>
<ellipse class="w" cx="690.5" cy="524.5" rx="2.1" ry="3.4" transform="rotate(-20 690.5 524.5)"/>
<ellipse class="w" cx="711.4" cy="516.9" rx="2.9" ry="4.1" transform="rotate(-20 711.4 516.9)"/>
<path class="t" d="M698.0 525.4L696.6 521.6"/>
<path class="t" d="M701.1 524.3L699.7 520.4"/>
<path class="t" d="M704.2 523.1L702.8 519.3"/>
<path class="t" d="M707.4 522.0L706.0 518.1"/>
<path class="l" d="M650.0 587.0L672.0 579.5"/>
<path class="l" d="M647.8 580.5L669.8 573.0"/>
<ellipse class="w" cx="648.9" cy="583.7" rx="2.1" ry="3.4" transform="rotate(-20 648.9 583.7)"/>
<ellipse class="w" cx="670.9" cy="576.3" rx="2.9" ry="4.1" transform="rotate(-20 670.9 576.3)"/>
<path class="t" d="M656.6 584.7L655.3 580.8"/>
<path class="t" d="M659.9 583.6L658.6 579.7"/>
<path class="t" d="M663.2 582.5L661.9 578.6"/>
<path class="t" d="M666.5 581.4L665.2 577.5"/>
<ellipse class="m" cx="635.4" cy="474.3" rx="10.9" ry="13.9" transform="rotate(-18 635.4 474.3)"/>
<ellipse class="l" cx="635.4" cy="474.3" rx="7.7" ry="10.2" transform="rotate(-18 635.4 474.3)"/>
<ellipse class="m" cx="636.0" cy="474.3" rx="4.8" ry="7.6" transform="rotate(-18 635.4 474.3)"/>
<ellipse class="t" cx="636.0" cy="474.3" rx="3.2" ry="6.0" transform="rotate(-18 635.4 474.3)"/>
<path class="t" d="M634.3 468.6C634.9 469.3 636.9 471.4 637.7 473.1C638.6 474.9 639.1 477.9 639.4 478.9"/>
<path class="t" d="M632.6 470.9C633.1 471.7 635.2 474.3 636.0 476.0C636.8 477.7 637.0 480.3 637.1 481.1"/>
<path class="l" d="M634.3 456.6C635.4 455.7 638.5 453.4 641.1 451.4C643.8 449.5 647.2 446.9 650.3 444.8C653.3 442.7 656.6 440.6 659.4 438.9C662.3 437.1 666.1 435.0 667.4 434.3"/>
<path class="l" d="M630.9 459.4C632.0 459.0 635.6 457.1 637.7 457.1C639.8 457.1 642.1 458.3 643.4 459.4C644.8 460.6 645.3 463.2 645.7 464.0"/>
<path class="l" d="M626.3 485.1C626.1 486.2 625.7 489.0 625.4 491.4C625.1 493.9 624.7 498.6 624.6 500.0"/>
<path class="l" d="M628.6 486.9C629.3 487.8 631.6 490.2 633.1 492.6C634.7 494.9 637.2 500.1 637.7 500.9C638.2 501.6 636.6 497.5 636.3 496.9"/>
<path class="l" d="M627.4 490.0C628.4 491.0 631.4 493.9 633.1 495.7C634.9 497.5 637.0 500.0 637.7 500.9"/>
<path class="h" d="M636.6 496.9C636.4 498.6 635.8 502.6 635.4 507.1C635.0 511.7 634.1 518.6 634.3 524.3C634.5 530.0 635.4 535.7 636.6 541.4C637.7 547.1 639.6 553.4 641.1 558.6C642.7 563.7 644.8 568.9 645.7 572.3C646.7 575.7 646.7 578.0 646.9 579.1"/>
<path class="l" d="M641.1 452.0C642.3 453.2 646.4 457.4 648.0 459.4C649.6 461.4 649.0 461.7 650.9 464.0C652.8 466.3 658.0 471.6 659.4 473.1"/>
<path class="l" d="M648.0 447.4C649.0 449.0 652.2 454.0 653.7 457.1C655.2 460.3 656.0 463.7 657.1 466.3C658.3 468.9 660.0 471.5 660.6 472.6"/>
<path class="l" d="M644.0 464.0C645.0 464.8 648.1 467.3 650.3 468.6C652.5 469.8 655.1 471.0 657.1 471.4C659.1 471.9 660.9 471.9 662.3 471.4C663.7 471.0 665.1 469.0 665.7 468.6"/>
<path class="t" d="M642.3 459.4C643.0 459.0 645.3 458.1 646.9 457.1C648.4 456.2 650.7 454.3 651.4 453.7"/>
<path class="t" d="M645.1 463.4C646.0 463.0 648.8 462.0 650.3 461.1C651.8 460.3 653.6 458.8 654.3 458.3"/>
<path class="t" d="M638.9 456.0C639.6 455.6 642.0 454.7 643.4 453.7C644.9 452.8 646.8 450.9 647.4 450.3"/>
<path class="l" d="M668.0 432.0C667.9 433.3 667.8 437.3 667.7 440.0C667.5 442.7 667.3 446.7 667.2 448.0"/>
<path class="h" d="M667.2 448.0C666.9 449.9 666.0 456.0 665.4 459.4C664.8 462.9 664.2 466.5 663.5 468.6C662.9 470.6 662.0 471.2 661.7 471.8"/>
<path class="l" d="M669.7 448.0C670.3 447.0 671.6 443.7 673.1 442.3C674.7 440.9 677.1 439.4 678.9 439.4C680.6 439.4 681.9 440.5 683.4 442.3C685.0 444.1 686.5 447.0 688.0 450.3C689.5 453.5 691.0 458.1 692.6 461.7C694.1 465.3 695.8 469.3 697.1 472.0C698.5 474.7 700.0 476.8 700.6 477.7"/>
<path class="l" d="M668.6 464.0C669.0 461.7 670.5 453.3 671.4 450.3C672.4 447.2 673.1 446.8 674.3 445.7C675.4 444.6 677.0 443.7 678.3 443.7C679.6 443.7 680.9 444.0 682.3 445.7C683.7 447.4 685.3 450.7 686.9 453.7C688.4 456.8 690.0 460.8 691.4 464.0C692.9 467.2 694.8 471.6 695.4 473.1"/>
<path class="l" d="M692.6 430.9C692.8 432.4 693.3 436.6 693.7 440.0C694.1 443.4 694.3 447.4 694.9 451.4C695.4 455.4 696.2 460.0 697.1 464.0C698.1 468.0 700.0 473.5 700.6 475.4"/>
<path class="l" d="M702.9 437.7C703.0 439.0 703.3 442.5 703.4 445.7C703.5 449.0 703.6 453.3 703.4 457.1C703.2 461.0 702.7 465.3 702.3 468.6C701.9 471.8 701.3 475.2 701.1 476.6"/>
<path class="t" d="M693.7 440.6L702.9 440.0"/>
<path class="t" d="M694.9 451.4L703.4 451.4"/>
<path class="t" d="M696.6 461.7L702.9 461.7"/>
<path class="t" d="M688.0 453.7L692.6 452.0"/>
<path class="t" d="M691.4 464.6L696.6 462.9"/>
<path class="l" d="M668.6 432.9C670.1 433.1 674.9 434.5 677.7 434.3C680.6 434.0 683.2 432.2 685.7 431.4C688.2 430.7 691.4 430.2 692.6 429.9"/>
<path class="l" d="M692.6 430.9C693.5 431.4 696.6 433.0 698.3 434.3C700.0 435.5 702.1 437.6 702.9 438.3"/>
<path class="l" d="M703.4 440.3C705.7 441.4 712.6 444.3 717.1 447.1C721.7 450.0 726.3 453.2 730.9 457.4C735.4 461.6 740.4 466.9 744.6 472.3C748.8 477.7 752.8 484.6 756.0 490.0C759.2 495.4 761.5 499.7 764.0 504.9C766.5 510.0 769.0 515.7 770.9 520.9C772.8 526.0 774.7 533.2 775.4 535.7"/>
<path class="l" d="M738.9 528.9C740.4 529.0 745.0 529.0 748.0 529.4C751.0 529.8 754.1 530.5 757.1 531.1C760.2 531.8 763.2 532.5 766.3 533.4C769.3 534.4 772.3 533.7 775.4 536.9C778.6 540.0 783.5 549.7 785.1 552.3"/>
<path class="l" d="M738.9 531.1C740.0 532.1 743.2 535.1 745.7 536.9C748.2 538.6 751.0 540.3 753.7 541.4C756.4 542.6 758.9 543.0 761.7 543.7C764.6 544.5 767.0 544.5 770.9 546.0C774.8 547.5 782.8 551.7 785.1 552.9"/>
<path class="t" d="M754.9 531.1L753.1 539.1"/>
<path class="t" d="M764.0 534.0L761.7 542.6"/>
<path class="t" d="M776.0 538.0L770.9 544.9"/>
<path class="t" d="M746.9 530.0L745.7 535.7"/>
<path class="l" d="M757.1 543.7C758.1 544.9 761.5 548.1 762.9 550.6C764.2 553.0 765.1 555.9 765.1 558.6C765.1 561.2 764.2 564.5 762.9 566.6C761.5 568.7 759.2 569.8 757.1 571.1C755.0 572.5 752.2 573.0 750.3 574.6C748.4 576.1 746.7 577.7 745.7 580.3C744.8 582.9 744.8 588.4 744.6 590.0"/>
<path class="l" d="M761.7 543.1C762.9 544.4 767.0 548.0 768.6 550.6C770.1 553.1 770.9 555.7 770.9 558.6C770.9 561.4 769.7 565.4 768.6 567.7C767.4 570.0 764.8 571.5 764.0 572.3"/>
<path class="l" d="M785.1 552.9C784.3 554.8 781.8 561.4 780.0 564.3C778.2 567.1 776.6 568.5 774.3 570.0C772.0 571.5 769.1 572.6 766.3 573.4C763.4 574.3 760.0 574.4 757.1 575.1C754.3 575.9 751.0 576.4 749.1 578.0C747.2 579.6 746.2 582.9 745.7 584.9C745.2 586.9 746.2 589.1 746.3 590.0"/>
<path class="l" d="M785.1 554.0C784.7 556.5 783.5 565.4 782.3 568.9C781.0 572.3 780.0 572.9 777.7 574.6C775.4 576.3 771.6 578.1 768.6 579.1C765.5 580.2 762.3 580.3 759.4 580.9C756.6 581.4 753.3 581.7 751.4 582.6C749.5 583.4 748.6 585.4 748.0 586.0"/>
<path class="t" d="M768.6 573.4L770.3 578.6"/>
<path class="t" d="M758.3 574.6L760.6 580.3"/>
<path class="t" d="M753.7 573.4L751.4 576.9"/>
<path class="t" d="M775.4 569.4L778.9 573.4"/>
<path class="l" d="M785.1 552.9C784.5 556.1 781.9 566.1 781.1 572.3C780.4 578.5 780.7 590.4 780.6 590.0C780.5 589.6 780.7 570.5 780.6 570.0C780.5 569.5 780.5 581.4 780.0 587.1C779.5 592.9 778.7 599.1 777.7 604.3C776.8 609.4 775.0 614.4 774.3 618.0C773.6 621.6 773.8 624.7 773.7 626.0"/>
<path class="m" d="M736.6 527.7C737.1 529.0 738.9 532.9 740.0 535.7C741.1 538.6 742.9 543.3 743.4 544.9"/>
<path class="l" d="M746.9 576.9C748.0 576.3 751.0 574.2 753.7 573.4C756.4 572.7 759.8 572.3 762.9 572.3C765.9 572.3 769.1 573.2 772.0 573.4C774.9 573.6 778.7 573.4 780.0 573.4"/>
<path class="l" d="M748.0 580.3C749.3 579.9 753.1 578.3 756.0 578.0C758.9 577.7 762.1 578.8 765.1 578.6C768.2 578.4 771.8 577.5 774.3 576.9C776.8 576.2 779.0 575.0 780.0 574.6"/>
<path class="t" d="M754.9 573.4L756.6 578.0"/>
<path class="t" d="M764.0 572.5L765.7 578.6"/>
<path class="t" d="M772.6 573.4L773.7 576.9"/>
<path class="l" d="M744.6 590.0C744.6 589.1 744.2 584.8 744.6 584.9C745.0 585.0 745.7 588.7 746.9 590.6C748.0 592.5 749.9 594.2 751.4 596.3C753.0 598.4 754.9 600.7 756.0 603.1C757.1 605.6 757.8 608.5 758.3 611.1C758.8 613.8 759.0 616.5 758.9 619.1C758.7 621.8 758.2 625.2 757.1 627.1C756.1 629.0 754.3 629.9 752.6 630.6C750.9 631.2 749.0 631.7 746.9 631.1C744.8 630.6 742.1 628.4 740.0 627.1C737.9 625.9 737.1 625.1 734.3 623.7C731.4 622.3 724.8 619.4 722.9 618.6"/>
<path class="l" d="M744.0 581.4C743.9 582.8 743.0 586.8 743.4 589.4C743.9 592.1 745.5 594.6 746.9 597.4C748.2 600.3 750.2 603.5 751.4 606.6C752.7 609.6 753.9 612.9 754.3 615.7C754.7 618.6 754.4 621.6 753.7 623.7C753.0 625.8 751.8 627.4 750.3 628.3C748.8 629.1 746.3 629.2 744.6 628.9C742.9 628.5 740.8 626.5 740.0 626.0"/>
<path class="l" d="M746.9 589.4C748.2 590.6 752.2 593.8 754.9 596.3C757.5 598.8 760.4 601.6 762.9 604.3C765.3 607.0 767.9 609.8 769.7 612.3C771.5 614.8 773.0 616.9 773.7 619.1C774.4 621.4 773.7 624.9 773.7 626.0"/>
<path class="l" d="M745.7 594.0C747.0 595.5 751.2 599.9 753.7 603.1C756.2 606.4 758.3 610.4 760.6 613.4C762.9 616.5 765.3 619.1 767.4 621.4C769.5 623.7 772.2 626.2 773.1 627.1"/>
<path class="t" d="M757.1 598.6L752.6 603.1"/>
<path class="t" d="M764.0 605.4L758.3 611.1"/>
<path class="t" d="M772.0 615.7L766.3 618.0"/>
<path class="t" d="M750.3 592.9L746.9 598.6"/>
<path class="l" d="M740.0 629.4C741.1 630.2 744.4 633.0 746.9 634.0C749.3 635.0 752.2 635.3 754.9 635.1C757.5 635.0 760.4 633.8 762.9 632.9C765.3 631.9 767.9 630.6 769.7 629.4C771.5 628.3 773.0 626.6 773.7 626.0"/>
<path class="m" d="M722.9 618.6C723.8 619.0 725.7 620.0 728.6 621.4C731.4 622.9 737.0 625.3 740.0 627.1C743.0 629.0 745.7 631.4 746.9 632.3"/>
<path class="l" d="M853.7 475.7L873.7 469.4L880.6 466.0"/>
<path class="l" d="M858.9 484.9L876.0 478.0L883.4 474.6"/>
<path class="m" d="M873.7 469.4L876.0 478.0"/>
<path class="t" d="M855.4 475.2L858.3 483.7"/>
<path class="t" d="M858.6 474.2L861.5 482.6"/>
<path class="t" d="M861.8 473.2L864.7 481.4"/>
<path class="t" d="M865.0 472.2L867.9 480.3"/>
<path class="t" d="M868.2 471.2L871.1 479.2"/>
<path class="t" d="M871.4 470.2L874.3 478.1"/>
<path class="l" d="M880.6 463.1L885.1 459.1L890.9 458.6L896.6 462.0L898.3 468.9L895.4 474.6L889.7 476.3L884.0 474.6L880.6 470.0Z"/>
<ellipse class="l" cx="886.3" cy="468.9" rx="3.6" ry="6" transform="rotate(-20 886.3 468.9)"/>
<path class="t" d="M885.1 459.1L886.9 463.1"/>
<path class="t" d="M890.9 458.6L891.4 462.6"/>
<path class="t" d="M889.7 476.3L888.6 475.1"/>
</g>

<g id="boxparts">
<path class="m" d="M213.6 234.7L214.5 232.3L217.9 230.9L223.6 228.5L231.2 225.6L237.9 224.2L244.5 224.2L247.9 225.6L250.2 228.5L252.1 232.3L256.0 239.9L259.8 247.5L260.7 250.4L259.8 255.1L256.0 259.0L248.3 266.6L240.7 274.2L238.3 279.0L237.4 286.6L236.4 296.1L235.5 302.8L239.8 305.6L245.5 309.0L247.4 310.9L246.9 313.2L242.6 318.0L235.0 325.6L228.3 332.3L223.6 334.7L217.9 334.2L214.0 331.3L212.1 326.6L212.6 318.0L215.5 299.0L218.8 277.0L221.2 260.9L220.7 254.2L222.6 248.5L226.0 241.8L227.4 238.5L226.4 236.6L223.6 236.6L215.0 238.5L213.6 237.0Z"/>
<path class="l" d="M227.4 238.5C227.8 238.0 229.0 235.9 229.8 235.6C230.5 235.4 231.3 236.2 231.7 237.0C232.1 237.9 232.5 239.1 232.1 240.9C231.7 242.6 230.2 245.5 229.3 247.5C228.4 249.6 227.2 251.5 226.9 253.2C226.6 255.0 227.1 256.4 227.4 258.0C227.6 259.6 228.5 259.9 228.3 262.8C228.2 265.6 227.2 269.9 226.4 275.1C225.6 280.4 224.6 287.8 223.6 294.2C222.5 300.5 221.0 308.0 220.2 313.2C219.4 318.5 218.8 322.8 218.8 325.6C218.8 328.5 219.4 329.2 220.2 330.4C221.0 331.6 223.0 332.4 223.6 332.8"/>
<path class="l" d="M215.5 234.4L223.6 231.5L229.3 229.6L231.7 237.0"/>
<path class="g" d="M215.0 237.5L223.6 235.6L226.9 236.1Z"/>
<path class="l" d="M231.7 236.8C232.5 236.6 235.1 236.3 236.9 235.9C238.7 235.6 241.0 235.6 242.6 234.7C244.2 233.7 245.5 231.8 246.4 230.4C247.3 229.0 247.7 226.8 248.0 226.1"/>
<path class="t" d="M229.8 229.9L231.2 226.1"/>
<ellipse class="l" cx="238.0" cy="230.6" rx="2.5" ry="3.8" transform="rotate(25 238.0 230.6)"/>
<ellipse class="t" cx="238.3" cy="230.9" rx="1.4" ry="2.7" transform="rotate(25 238.3 230.9)"/>
<path class="l" d="M227.4 257.5L245.5 250.2"/>
<path class="l" d="M252.1 248.3L258.6 245.8"/>
<path class="l" d="M229.8 263.2L246.4 256.6L252.1 254.2L260.0 250.9"/>
<ellipse class="w" cx="248.3" cy="251.8" rx="2.6" ry="5.0" transform="rotate(8 248.3 251.8)"/>
<ellipse class="l" cx="248.6" cy="252.0" rx="1.3" ry="3.2" transform="rotate(8 248.6 252.0)"/>
<path class="t" d="M252.1 248.3L253.3 254.7"/>
<path class="l" d="M233.1 269.4L235.0 265.6L238.8 264.7L239.8 266.6L237.4 270.9L234.0 271.3Z"/>
<path class="k" d="M233.9 269.9L235.5 266.8L236.9 269.9Z"/>
<path class="l" d="M225.5 302.8L227.9 299.0L231.2 298.5L231.7 300.4L228.8 304.2L226.0 304.7Z"/>
<path class="t" d="M226.6 302.8L228.5 300.1L230.4 299.9"/>
<ellipse class="l" cx="228.0" cy="323.7" rx="3.2" ry="5.3" transform="rotate(32 228.0 323.7)"/>
<ellipse class="t" cx="228.5" cy="323.9" rx="2.1" ry="4.2" transform="rotate(32 228.5 323.9)"/>
<path class="k" d="M254.8 289.5L259.5 287.1L261.9 288.1L265.7 289.0L271.0 287.1L274.8 288.1L278.6 289.5L281.0 295.2L278.6 299.0L280.5 301.0L284.3 302.4L286.2 305.7L286.2 308.6L289.0 311.0L287.1 313.3L278.6 317.1L273.8 319.5L269.0 320.0L266.7 317.6L261.9 313.3L258.6 308.6L256.2 305.7L254.3 304.8L254.8 301.9L255.7 296.7L254.8 291.9Z"/>
<path d="M263.1 292.9L274.5 288.8L275.2 290.2L263.8 294.5Z" fill="#fff"/>
<path d="M266.2 296.0L278.6 291.4L279.1 292.9L266.9 297.5Z" fill="#fff"/>
<path d="M268.3 299.0L280.0 294.5L280.5 296.0L269.0 300.6Z" fill="#fff"/>
<path d="M275.0 301.0L279.0 299.5L279.8 302.4L276.0 304.0Z" fill="#fff"/>
<path d="M279.8 303.8L284.8 302.4L285.5 305.7L281.0 307.2Z" fill="#fff"/>
<path d="M273.1 307.6L278.1 306.0L278.8 309.0L274.0 310.9Z" fill="#fff"/>
<path d="M266.9 304.0L270.7 302.9L271.2 306.0L267.6 307.1Z" fill="#fff"/>
<path d="M269.0 309.5L271.2 308.8L271.7 312.9L269.5 313.6Z" fill="#fff"/>
<path d="M278.6 312.9L286.7 310.0L287.1 311.2L279.0 314.0Z" fill="#fff"/>
<path d="M259.5 298.6L261.4 297.6L264.3 302.9L262.9 303.8Z" fill="#fff"/>
<path d="M259.0 304.8L261.0 303.8L265.7 310.5L264.3 311.4Z" fill="#fff"/>
<path d="M256.7 291.9L260.0 290.5L260.7 291.9L257.1 293.6Z" fill="#fff"/>
<path d="M274.8 315.2L278.6 313.9L279.0 315.2L275.2 316.7Z" fill="#fff"/>
<ellipse class="tw" cx="269.8" cy="317.6" rx="1.4" ry="0.9" transform="rotate(-20 269.8 317.6)"/>
<path class="b" d="M215.5 170.6C214.7 170.9 212.1 171.6 210.7 172.3C209.3 173.0 208.0 173.6 206.9 174.7C205.8 175.8 204.8 177.3 204.3 179.0C203.8 180.6 204.0 182.6 204.0 184.7C204.1 186.7 204.3 189.3 204.8 191.3C205.2 193.4 206.0 195.6 206.9 197.0C207.8 198.5 209.5 199.6 210.0 200.1" style="stroke-width:3"/>
<path class="b" d="M216.4 172.3C215.8 172.8 213.6 174.3 212.6 175.6C211.6 177.0 210.9 178.6 210.5 180.4C210.1 182.1 210.1 184.3 210.2 186.1C210.4 187.9 210.9 189.7 211.4 191.3C211.9 192.9 212.5 194.6 213.3 195.6C214.2 196.7 215.3 197.4 216.7 197.5C218.1 197.6 220.2 196.8 221.7 196.1C223.1 195.4 224.6 194.4 225.5 193.2C226.3 192.0 226.6 190.5 226.7 189.0C226.7 187.4 226.5 185.2 226.0 183.7C225.4 182.2 224.3 180.9 223.1 179.9C221.9 179.0 220.1 178.3 218.8 178.0C217.5 177.7 216.0 178.0 215.5 178.0" style="stroke-width:2.2"/>
<path class="b" d="M212.1 163.3L218.8 163.3L220.7 165.6L225.5 170.9L225.5 173.2L221.7 173.7L218.8 171.8L217.4 169.9L214.0 169.9L213.1 166.6Z" style="stroke-width:1.8"/>
<path class="g" d="M214.0 164.7L217.4 164.7L217.9 169.0L214.5 169.2Z" style="stroke-width:1"/>
<path class="t" d="M220.7 169.9L223.6 170.6L223.1 172.3"/>
<path class="b" d="M205.2 178.0L209.3 176.1" style="stroke-width:1.6"/>
<path class="b" d="M204.5 182.8L209.8 181.8" style="stroke-width:1.6"/>
<path class="b" d="M205.0 188.5L210.2 187.5" style="stroke-width:1.6"/>
<path class="b" d="M206.9 194.2L211.4 192.3" style="stroke-width:1.6"/>
<path class="b" d="M207.4 173.7L210.7 174.7" style="stroke-width:1.6"/>
<ellipse class="b" style="stroke-width:2" cx="217.9" cy="187.5" rx="6.2" ry="7.1" transform="rotate(-10 217.9 187.5)"/>
<path class="b" d="M212.6 186.6C213.1 186.9 214.3 187.8 215.5 188.5C216.7 189.2 218.4 190.4 219.8 190.9C221.1 191.3 222.9 191.3 223.6 191.3" style="stroke-width:2.2"/>
<path class="b" d="M214.0 182.8C214.6 183.1 216.3 184.3 217.4 184.7C218.5 185.0 220.0 184.0 220.7 184.7C221.4 185.3 221.2 187.2 221.7 188.5C222.1 189.7 223.3 191.7 223.6 192.3" style="stroke-width:1.8"/>
<path class="k" d="M221.7 182.8L224.5 184.7L224.0 189.4L221.7 188.5Z"/>
<path class="b" d="M224.5 178.0L230.2 177.6L234.5 181.3L233.1 183.7L234.0 187.5L232.1 191.3L228.3 193.2L226.0 191.3" style="stroke-width:2.2"/>
<path class="b" d="M228.3 183.7L233.6 180.9" style="stroke-width:2.2"/>
<path class="b" d="M225.5 180.4L229.8 178.5" style="stroke-width:1.6"/>
<path class="g" d="M230.2 184.7L233.8 184.7L233.8 190.4L231.2 191.3Z" style="stroke-width:1.2;fill:#999"/>
<path class="b" d="M208.8 200.4L215.0 200.9L221.7 199.4L228.3 197.5L230.2 196.7L228.3 199.9L227.4 205.6L224.5 209.4L219.8 210.9L216.0 208.0L214.0 203.7L209.3 202.8Z" style="stroke-width:2.2"/>
<path class="k" d="M208.8 200.4L215.0 201.1L214.5 203.2L209.3 202.5Z"/>
<path class="b" d="M217.4 202.3L218.8 208.5" style="stroke-width:1.8"/>
<path class="b" d="M220.7 201.8L222.1 207.5" style="stroke-width:1.8"/>
<path class="b" d="M224.0 201.3L225.5 206.5" style="stroke-width:1.8"/>
<path class="b" d="M226.4 200.9L227.9 205.8" style="stroke-width:1.8"/>
<path class="tw" d="M216.0 200.9L227.9 198.0"/>
<ellipse class="w" style="stroke-width:1.6" cx="124.9" cy="273.5" rx="6.9" ry="9.4" transform="rotate(22 124.9 273.5)"/>
<path class="m" d="M118.6 266.3L122.0 264.0L130.0 265.1"/>
<path class="m" d="M118.6 266.3L115.7 271.4L116.3 277.1L119.7 281.1"/>
<path class="l" d="M122.0 264.0L123.1 266.9"/>
<path class="l" d="M116.1 273.7L118.6 274.6"/>
<ellipse class="m" cx="124.9" cy="273.5" rx="4.6" ry="7.1" transform="rotate(22 124.9 273.5)"/>
<ellipse class="m" cx="125.2" cy="273.7" rx="1.9" ry="3.4" transform="rotate(22 125.2 273.7)"/>
</g>

</svg>
</body></html>
